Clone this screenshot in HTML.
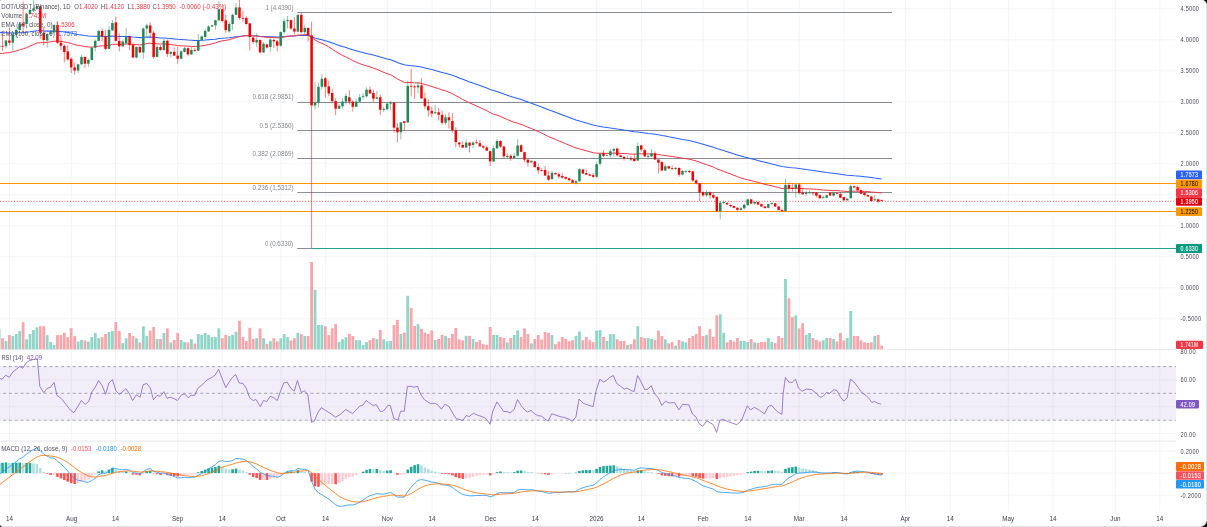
<!DOCTYPE html>
<html><head><meta charset="utf-8"><title>DOT/USDT chart</title>
<style>
html,body{margin:0;padding:0;width:1207px;height:527px;overflow:hidden;background:#000;}
.frame{position:absolute;left:0;top:0;width:1206px;height:526px;background:#fff;border-right:1px solid #dfe2ea;border-bottom:1px solid #dfe2ea;border-radius:1px 5px 7px 3px;overflow:hidden;}
svg{position:absolute;left:0;top:0;display:block;}
</style></head><body><div class="frame"><svg width="1207" height="527" viewBox="0 0 1207 527" font-family="'Liberation Sans', Arial, sans-serif"><line x1="9.4" y1="0" x2="9.4" y2="511.5" stroke="#f3f4f6" stroke-width="1"/><line x1="71.6" y1="0" x2="71.6" y2="511.5" stroke="#f3f4f6" stroke-width="1"/><line x1="115.5" y1="0" x2="115.5" y2="511.5" stroke="#f3f4f6" stroke-width="1"/><line x1="177.6" y1="0" x2="177.6" y2="511.5" stroke="#f3f4f6" stroke-width="1"/><line x1="222.3" y1="0" x2="222.3" y2="511.5" stroke="#f3f4f6" stroke-width="1"/><line x1="280.9" y1="0" x2="280.9" y2="511.5" stroke="#f3f4f6" stroke-width="1"/><line x1="325.6" y1="0" x2="325.6" y2="511.5" stroke="#f3f4f6" stroke-width="1"/><line x1="387.4" y1="0" x2="387.4" y2="511.5" stroke="#f3f4f6" stroke-width="1"/><line x1="432.1" y1="0" x2="432.1" y2="511.5" stroke="#f3f4f6" stroke-width="1"/><line x1="490.5" y1="0" x2="490.5" y2="511.5" stroke="#f3f4f6" stroke-width="1"/><line x1="535.2" y1="0" x2="535.2" y2="511.5" stroke="#f3f4f6" stroke-width="1"/><line x1="596.6" y1="0" x2="596.6" y2="511.5" stroke="#f3f4f6" stroke-width="1"/><line x1="641.3" y1="0" x2="641.3" y2="511.5" stroke="#f3f4f6" stroke-width="1"/><line x1="703.1" y1="0" x2="703.1" y2="511.5" stroke="#f3f4f6" stroke-width="1"/><line x1="747.8" y1="0" x2="747.8" y2="511.5" stroke="#f3f4f6" stroke-width="1"/><line x1="799.2" y1="0" x2="799.2" y2="511.5" stroke="#f3f4f6" stroke-width="1"/><line x1="844.0" y1="0" x2="844.0" y2="511.5" stroke="#f3f4f6" stroke-width="1"/><line x1="905.3" y1="0" x2="905.3" y2="511.5" stroke="#f3f4f6" stroke-width="1"/><line x1="950.3" y1="0" x2="950.3" y2="511.5" stroke="#f3f4f6" stroke-width="1"/><line x1="1008.3" y1="0" x2="1008.3" y2="511.5" stroke="#f3f4f6" stroke-width="1"/><line x1="1053.1" y1="0" x2="1053.1" y2="511.5" stroke="#f3f4f6" stroke-width="1"/><line x1="1115.4" y1="0" x2="1115.4" y2="511.5" stroke="#f3f4f6" stroke-width="1"/><line x1="1159.8" y1="0" x2="1159.8" y2="511.5" stroke="#f3f4f6" stroke-width="1"/><line x1="0" y1="8.8" x2="1176" y2="8.8" stroke="#f3f4f6" stroke-width="1"/><line x1="0" y1="39.8" x2="1176" y2="39.8" stroke="#f3f4f6" stroke-width="1"/><line x1="0" y1="70.8" x2="1176" y2="70.8" stroke="#f3f4f6" stroke-width="1"/><line x1="0" y1="101.8" x2="1176" y2="101.8" stroke="#f3f4f6" stroke-width="1"/><line x1="0" y1="132.8" x2="1176" y2="132.8" stroke="#f3f4f6" stroke-width="1"/><line x1="0" y1="163.8" x2="1176" y2="163.8" stroke="#f3f4f6" stroke-width="1"/><line x1="0" y1="194.8" x2="1176" y2="194.8" stroke="#f3f4f6" stroke-width="1"/><line x1="0" y1="225.8" x2="1176" y2="225.8" stroke="#f3f4f6" stroke-width="1"/><line x1="0" y1="256.8" x2="1176" y2="256.8" stroke="#f3f4f6" stroke-width="1"/><line x1="0" y1="287.8" x2="1176" y2="287.8" stroke="#f3f4f6" stroke-width="1"/><line x1="0" y1="318.8" x2="1176" y2="318.8" stroke="#f3f4f6" stroke-width="1"/><line x1="0" y1="380.0" x2="1176" y2="380.0" stroke="#f3f4f6" stroke-width="1"/><line x1="0" y1="406.7" x2="1176" y2="406.7" stroke="#f3f4f6" stroke-width="1"/><line x1="0" y1="433.4" x2="1176" y2="433.4" stroke="#f3f4f6" stroke-width="1"/><line x1="0" y1="451.1" x2="1176" y2="451.1" stroke="#f3f4f6" stroke-width="1"/><line x1="0" y1="473.1" x2="1176" y2="473.1" stroke="#f3f4f6" stroke-width="1"/><line x1="0" y1="495.2" x2="1176" y2="495.2" stroke="#f3f4f6" stroke-width="1"/><line x1="0" y1="349.6" x2="1176" y2="349.6" stroke="#e5e7ed" stroke-width="1"/><line x1="0" y1="441.1" x2="1176" y2="441.1" stroke="#e5e7ed" stroke-width="1"/><rect x="0" y="366.2" width="1176" height="54.2" fill="#7e57c2" fill-opacity="0.1"/><line x1="0" y1="366.6" x2="1176" y2="366.6" stroke="#8a8d96" stroke-width="0.75" stroke-dasharray="3,2.8" stroke-dashoffset="2.7"/><line x1="0" y1="393.3" x2="1176" y2="393.3" stroke="#8a8d96" stroke-width="0.75" stroke-dasharray="3,2.8" stroke-dashoffset="2.7"/><line x1="0" y1="420.2" x2="1176" y2="420.2" stroke="#8a8d96" stroke-width="0.75" stroke-dasharray="3,2.8" stroke-dashoffset="2.7"/><g><rect x="-2.30" y="329.1" width="2.8" height="20.1" fill="#90d5c8"/><rect x="1.13" y="338.2" width="2.8" height="11.0" fill="#f8a5ab"/><rect x="4.57" y="341.1" width="2.8" height="8.1" fill="#90d5c8"/><rect x="8.00" y="335.1" width="2.8" height="14.1" fill="#f8a5ab"/><rect x="11.43" y="336.1" width="2.8" height="13.1" fill="#90d5c8"/><rect x="14.87" y="334.0" width="2.8" height="15.2" fill="#90d5c8"/><rect x="18.30" y="331.1" width="2.8" height="18.1" fill="#90d5c8"/><rect x="21.74" y="322.2" width="2.8" height="27.0" fill="#f8a5ab"/><rect x="25.17" y="339.4" width="2.8" height="9.8" fill="#90d5c8"/><rect x="28.60" y="334.0" width="2.8" height="15.2" fill="#90d5c8"/><rect x="32.04" y="330.1" width="2.8" height="19.1" fill="#90d5c8"/><rect x="35.47" y="327.4" width="2.8" height="21.8" fill="#90d5c8"/><rect x="38.91" y="326.2" width="2.8" height="23.0" fill="#f8a5ab"/><rect x="42.34" y="326.2" width="2.8" height="23.0" fill="#f8a5ab"/><rect x="45.77" y="335.1" width="2.8" height="14.1" fill="#90d5c8"/><rect x="49.21" y="342.1" width="2.8" height="7.1" fill="#90d5c8"/><rect x="52.64" y="344.8" width="2.8" height="4.4" fill="#90d5c8"/><rect x="56.08" y="335.1" width="2.8" height="14.1" fill="#f8a5ab"/><rect x="59.51" y="335.1" width="2.8" height="14.1" fill="#f8a5ab"/><rect x="62.94" y="332.8" width="2.8" height="16.4" fill="#f8a5ab"/><rect x="66.38" y="337.1" width="2.8" height="12.1" fill="#f8a5ab"/><rect x="69.81" y="328.1" width="2.8" height="21.1" fill="#f8a5ab"/><rect x="73.25" y="336.1" width="2.8" height="13.1" fill="#f8a5ab"/><rect x="76.68" y="341.5" width="2.8" height="7.7" fill="#90d5c8"/><rect x="80.11" y="340.0" width="2.8" height="9.2" fill="#90d5c8"/><rect x="83.55" y="340.5" width="2.8" height="8.7" fill="#f8a5ab"/><rect x="86.98" y="341.5" width="2.8" height="7.7" fill="#90d5c8"/><rect x="90.42" y="337.1" width="2.8" height="12.1" fill="#90d5c8"/><rect x="93.85" y="333.0" width="2.8" height="16.2" fill="#90d5c8"/><rect x="97.28" y="338.2" width="2.8" height="11.0" fill="#90d5c8"/><rect x="100.72" y="337.2" width="2.8" height="12.0" fill="#f8a5ab"/><rect x="104.15" y="334.0" width="2.8" height="15.2" fill="#f8a5ab"/><rect x="107.59" y="332.1" width="2.8" height="17.1" fill="#90d5c8"/><rect x="111.02" y="331.1" width="2.8" height="18.1" fill="#90d5c8"/><rect x="114.45" y="322.0" width="2.8" height="27.2" fill="#f8a5ab"/><rect x="117.89" y="331.1" width="2.8" height="18.1" fill="#f8a5ab"/><rect x="121.32" y="343.1" width="2.8" height="6.1" fill="#90d5c8"/><rect x="124.76" y="338.3" width="2.8" height="10.9" fill="#90d5c8"/><rect x="128.19" y="333.0" width="2.8" height="16.2" fill="#f8a5ab"/><rect x="131.62" y="336.1" width="2.8" height="13.1" fill="#f8a5ab"/><rect x="135.06" y="338.2" width="2.8" height="11.0" fill="#90d5c8"/><rect x="138.49" y="342.5" width="2.8" height="6.7" fill="#f8a5ab"/><rect x="141.93" y="326.3" width="2.8" height="22.9" fill="#90d5c8"/><rect x="145.36" y="336.1" width="2.8" height="13.1" fill="#90d5c8"/><rect x="148.79" y="330.7" width="2.8" height="18.5" fill="#f8a5ab"/><rect x="152.23" y="327.0" width="2.8" height="22.2" fill="#f8a5ab"/><rect x="155.66" y="339.0" width="2.8" height="10.2" fill="#90d5c8"/><rect x="159.10" y="339.0" width="2.8" height="10.2" fill="#f8a5ab"/><rect x="162.53" y="333.0" width="2.8" height="16.2" fill="#90d5c8"/><rect x="165.96" y="328.4" width="2.8" height="20.8" fill="#f8a5ab"/><rect x="169.40" y="342.5" width="2.8" height="6.7" fill="#90d5c8"/><rect x="172.83" y="340.0" width="2.8" height="9.2" fill="#f8a5ab"/><rect x="176.27" y="333.0" width="2.8" height="16.2" fill="#f8a5ab"/><rect x="179.70" y="340.0" width="2.8" height="9.2" fill="#90d5c8"/><rect x="183.13" y="342.1" width="2.8" height="7.1" fill="#90d5c8"/><rect x="186.57" y="342.5" width="2.8" height="6.7" fill="#f8a5ab"/><rect x="190.00" y="339.2" width="2.8" height="10.0" fill="#90d5c8"/><rect x="193.44" y="343.6" width="2.8" height="5.6" fill="#f8a5ab"/><rect x="196.87" y="334.0" width="2.8" height="15.2" fill="#90d5c8"/><rect x="200.30" y="334.9" width="2.8" height="14.3" fill="#90d5c8"/><rect x="203.74" y="333.0" width="2.8" height="16.2" fill="#90d5c8"/><rect x="207.17" y="334.9" width="2.8" height="14.3" fill="#90d5c8"/><rect x="210.61" y="337.1" width="2.8" height="12.1" fill="#90d5c8"/><rect x="214.04" y="337.1" width="2.8" height="12.1" fill="#90d5c8"/><rect x="217.47" y="328.4" width="2.8" height="20.8" fill="#90d5c8"/><rect x="220.91" y="338.2" width="2.8" height="11.0" fill="#f8a5ab"/><rect x="224.34" y="334.9" width="2.8" height="14.3" fill="#f8a5ab"/><rect x="227.78" y="336.1" width="2.8" height="13.1" fill="#90d5c8"/><rect x="231.21" y="334.9" width="2.8" height="14.3" fill="#90d5c8"/><rect x="234.64" y="331.7" width="2.8" height="17.5" fill="#90d5c8"/><rect x="238.08" y="320.8" width="2.8" height="28.4" fill="#f8a5ab"/><rect x="241.51" y="337.1" width="2.8" height="12.1" fill="#f8a5ab"/><rect x="244.95" y="341.1" width="2.8" height="8.1" fill="#f8a5ab"/><rect x="248.38" y="327.8" width="2.8" height="21.4" fill="#f8a5ab"/><rect x="251.81" y="339.0" width="2.8" height="10.2" fill="#f8a5ab"/><rect x="255.25" y="338.2" width="2.8" height="11.0" fill="#90d5c8"/><rect x="258.68" y="328.4" width="2.8" height="20.8" fill="#f8a5ab"/><rect x="262.12" y="338.2" width="2.8" height="11.0" fill="#90d5c8"/><rect x="265.55" y="344.0" width="2.8" height="5.2" fill="#f8a5ab"/><rect x="268.98" y="341.1" width="2.8" height="8.1" fill="#90d5c8"/><rect x="272.42" y="338.2" width="2.8" height="11.0" fill="#f8a5ab"/><rect x="275.85" y="341.5" width="2.8" height="7.7" fill="#f8a5ab"/><rect x="279.29" y="338.2" width="2.8" height="11.0" fill="#90d5c8"/><rect x="282.72" y="334.0" width="2.8" height="15.2" fill="#90d5c8"/><rect x="286.15" y="337.1" width="2.8" height="12.1" fill="#90d5c8"/><rect x="289.59" y="340.3" width="2.8" height="8.9" fill="#f8a5ab"/><rect x="293.02" y="338.2" width="2.8" height="11.0" fill="#f8a5ab"/><rect x="296.46" y="332.9" width="2.8" height="16.3" fill="#90d5c8"/><rect x="299.89" y="334.2" width="2.8" height="15.0" fill="#f8a5ab"/><rect x="303.32" y="336.0" width="2.8" height="13.2" fill="#90d5c8"/><rect x="306.76" y="336.0" width="2.8" height="13.2" fill="#f8a5ab"/><rect x="310.19" y="262.0" width="2.8" height="87.2" fill="#f8a5ab"/><rect x="313.63" y="290.0" width="2.8" height="59.2" fill="#90d5c8"/><rect x="317.06" y="325.0" width="2.8" height="24.2" fill="#90d5c8"/><rect x="320.49" y="325.0" width="2.8" height="24.2" fill="#90d5c8"/><rect x="323.93" y="326.3" width="2.8" height="22.9" fill="#f8a5ab"/><rect x="327.36" y="335.1" width="2.8" height="14.1" fill="#f8a5ab"/><rect x="330.80" y="328.3" width="2.8" height="20.9" fill="#f8a5ab"/><rect x="334.23" y="324.1" width="2.8" height="25.1" fill="#f8a5ab"/><rect x="337.66" y="341.9" width="2.8" height="7.3" fill="#90d5c8"/><rect x="341.10" y="339.2" width="2.8" height="10.0" fill="#90d5c8"/><rect x="344.53" y="337.3" width="2.8" height="11.9" fill="#90d5c8"/><rect x="347.97" y="333.8" width="2.8" height="15.4" fill="#f8a5ab"/><rect x="351.40" y="336.0" width="2.8" height="13.2" fill="#f8a5ab"/><rect x="354.83" y="340.1" width="2.8" height="9.1" fill="#90d5c8"/><rect x="358.27" y="340.3" width="2.8" height="8.9" fill="#90d5c8"/><rect x="361.70" y="344.9" width="2.8" height="4.3" fill="#90d5c8"/><rect x="365.14" y="342.1" width="2.8" height="7.1" fill="#90d5c8"/><rect x="368.57" y="340.1" width="2.8" height="9.1" fill="#f8a5ab"/><rect x="372.00" y="338.2" width="2.8" height="11.0" fill="#f8a5ab"/><rect x="375.44" y="339.1" width="2.8" height="10.1" fill="#90d5c8"/><rect x="378.87" y="329.9" width="2.8" height="19.3" fill="#f8a5ab"/><rect x="382.31" y="339.3" width="2.8" height="9.9" fill="#90d5c8"/><rect x="385.74" y="341.3" width="2.8" height="7.9" fill="#90d5c8"/><rect x="389.17" y="340.9" width="2.8" height="8.3" fill="#90d5c8"/><rect x="392.61" y="325.0" width="2.8" height="24.2" fill="#f8a5ab"/><rect x="396.04" y="319.9" width="2.8" height="29.3" fill="#f8a5ab"/><rect x="399.48" y="333.9" width="2.8" height="15.3" fill="#90d5c8"/><rect x="402.91" y="332.6" width="2.8" height="16.6" fill="#f8a5ab"/><rect x="406.34" y="295.8" width="2.8" height="53.4" fill="#90d5c8"/><rect x="409.78" y="307.9" width="2.8" height="41.3" fill="#f8a5ab"/><rect x="413.21" y="326.0" width="2.8" height="23.2" fill="#f8a5ab"/><rect x="416.65" y="324.1" width="2.8" height="25.1" fill="#90d5c8"/><rect x="420.08" y="328.8" width="2.8" height="20.4" fill="#f8a5ab"/><rect x="423.51" y="332.6" width="2.8" height="16.6" fill="#f8a5ab"/><rect x="426.95" y="333.9" width="2.8" height="15.3" fill="#f8a5ab"/><rect x="430.38" y="330.4" width="2.8" height="18.8" fill="#f8a5ab"/><rect x="433.82" y="340.0" width="2.8" height="9.2" fill="#90d5c8"/><rect x="437.25" y="339.0" width="2.8" height="10.2" fill="#f8a5ab"/><rect x="440.68" y="334.9" width="2.8" height="14.3" fill="#f8a5ab"/><rect x="444.12" y="335.8" width="2.8" height="13.4" fill="#90d5c8"/><rect x="447.55" y="338.0" width="2.8" height="11.2" fill="#f8a5ab"/><rect x="450.99" y="333.9" width="2.8" height="15.3" fill="#f8a5ab"/><rect x="454.42" y="328.0" width="2.8" height="21.2" fill="#f8a5ab"/><rect x="457.85" y="339.3" width="2.8" height="9.9" fill="#f8a5ab"/><rect x="461.29" y="340.3" width="2.8" height="8.9" fill="#f8a5ab"/><rect x="464.72" y="335.8" width="2.8" height="13.4" fill="#90d5c8"/><rect x="468.16" y="335.9" width="2.8" height="13.3" fill="#f8a5ab"/><rect x="471.59" y="339.0" width="2.8" height="10.2" fill="#90d5c8"/><rect x="475.02" y="342.0" width="2.8" height="7.2" fill="#f8a5ab"/><rect x="478.46" y="340.2" width="2.8" height="9.0" fill="#f8a5ab"/><rect x="481.89" y="344.2" width="2.8" height="5.0" fill="#f8a5ab"/><rect x="485.33" y="344.9" width="2.8" height="4.3" fill="#f8a5ab"/><rect x="488.76" y="327.0" width="2.8" height="22.2" fill="#f8a5ab"/><rect x="492.19" y="335.0" width="2.8" height="14.2" fill="#90d5c8"/><rect x="495.63" y="335.0" width="2.8" height="14.2" fill="#90d5c8"/><rect x="499.06" y="337.0" width="2.8" height="12.2" fill="#f8a5ab"/><rect x="502.50" y="338.0" width="2.8" height="11.2" fill="#f8a5ab"/><rect x="505.93" y="342.4" width="2.8" height="6.8" fill="#90d5c8"/><rect x="509.36" y="338.0" width="2.8" height="11.2" fill="#f8a5ab"/><rect x="512.80" y="335.0" width="2.8" height="14.2" fill="#90d5c8"/><rect x="516.23" y="330.6" width="2.8" height="18.6" fill="#90d5c8"/><rect x="519.67" y="337.0" width="2.8" height="12.2" fill="#f8a5ab"/><rect x="523.10" y="328.4" width="2.8" height="20.8" fill="#f8a5ab"/><rect x="526.53" y="334.1" width="2.8" height="15.1" fill="#f8a5ab"/><rect x="529.97" y="343.4" width="2.8" height="5.8" fill="#90d5c8"/><rect x="533.40" y="339.0" width="2.8" height="10.2" fill="#f8a5ab"/><rect x="536.84" y="335.0" width="2.8" height="14.2" fill="#f8a5ab"/><rect x="540.27" y="339.5" width="2.8" height="9.7" fill="#f8a5ab"/><rect x="543.70" y="332.1" width="2.8" height="17.1" fill="#f8a5ab"/><rect x="547.14" y="332.9" width="2.8" height="16.3" fill="#f8a5ab"/><rect x="550.57" y="335.0" width="2.8" height="14.2" fill="#90d5c8"/><rect x="554.01" y="344.2" width="2.8" height="5.0" fill="#f8a5ab"/><rect x="557.44" y="341.5" width="2.8" height="7.7" fill="#f8a5ab"/><rect x="560.87" y="337.0" width="2.8" height="12.2" fill="#f8a5ab"/><rect x="564.31" y="339.0" width="2.8" height="10.2" fill="#f8a5ab"/><rect x="567.74" y="341.2" width="2.8" height="8.0" fill="#f8a5ab"/><rect x="571.18" y="340.2" width="2.8" height="9.0" fill="#f8a5ab"/><rect x="574.61" y="336.0" width="2.8" height="13.2" fill="#90d5c8"/><rect x="578.04" y="331.6" width="2.8" height="17.6" fill="#90d5c8"/><rect x="581.48" y="340.2" width="2.8" height="9.0" fill="#f8a5ab"/><rect x="584.91" y="337.0" width="2.8" height="12.2" fill="#f8a5ab"/><rect x="588.35" y="340.2" width="2.8" height="9.0" fill="#f8a5ab"/><rect x="591.78" y="342.2" width="2.8" height="7.0" fill="#f8a5ab"/><rect x="595.21" y="330.6" width="2.8" height="18.6" fill="#90d5c8"/><rect x="598.65" y="330.1" width="2.8" height="19.1" fill="#90d5c8"/><rect x="602.08" y="337.0" width="2.8" height="12.2" fill="#f8a5ab"/><rect x="605.52" y="341.0" width="2.8" height="8.2" fill="#90d5c8"/><rect x="608.95" y="334.1" width="2.8" height="15.1" fill="#90d5c8"/><rect x="612.38" y="334.1" width="2.8" height="15.1" fill="#90d5c8"/><rect x="615.82" y="339.3" width="2.8" height="9.9" fill="#f8a5ab"/><rect x="619.25" y="341.0" width="2.8" height="8.2" fill="#f8a5ab"/><rect x="622.69" y="341.0" width="2.8" height="8.2" fill="#f8a5ab"/><rect x="626.12" y="344.9" width="2.8" height="4.3" fill="#90d5c8"/><rect x="629.55" y="344.1" width="2.8" height="5.1" fill="#f8a5ab"/><rect x="632.99" y="339.3" width="2.8" height="9.9" fill="#f8a5ab"/><rect x="636.42" y="326.2" width="2.8" height="23.0" fill="#90d5c8"/><rect x="639.86" y="337.0" width="2.8" height="12.2" fill="#f8a5ab"/><rect x="643.29" y="338.0" width="2.8" height="11.2" fill="#f8a5ab"/><rect x="646.72" y="338.0" width="2.8" height="11.2" fill="#90d5c8"/><rect x="650.16" y="339.0" width="2.8" height="10.2" fill="#90d5c8"/><rect x="653.59" y="340.0" width="2.8" height="9.2" fill="#f8a5ab"/><rect x="657.03" y="330.6" width="2.8" height="18.6" fill="#f8a5ab"/><rect x="660.46" y="336.0" width="2.8" height="13.2" fill="#f8a5ab"/><rect x="663.89" y="339.3" width="2.8" height="9.9" fill="#90d5c8"/><rect x="667.33" y="343.4" width="2.8" height="5.8" fill="#f8a5ab"/><rect x="670.76" y="342.0" width="2.8" height="7.2" fill="#f8a5ab"/><rect x="674.20" y="345.7" width="2.8" height="3.5" fill="#90d5c8"/><rect x="677.63" y="340.0" width="2.8" height="9.2" fill="#f8a5ab"/><rect x="681.06" y="341.3" width="2.8" height="7.9" fill="#90d5c8"/><rect x="684.50" y="342.4" width="2.8" height="6.8" fill="#90d5c8"/><rect x="687.93" y="338.0" width="2.8" height="11.2" fill="#f8a5ab"/><rect x="691.37" y="336.0" width="2.8" height="13.2" fill="#f8a5ab"/><rect x="694.80" y="334.1" width="2.8" height="15.1" fill="#f8a5ab"/><rect x="698.23" y="326.2" width="2.8" height="23.0" fill="#f8a5ab"/><rect x="701.67" y="336.0" width="2.8" height="13.2" fill="#f8a5ab"/><rect x="705.10" y="335.0" width="2.8" height="14.2" fill="#90d5c8"/><rect x="708.54" y="329.1" width="2.8" height="20.1" fill="#f8a5ab"/><rect x="711.97" y="337.0" width="2.8" height="12.2" fill="#f8a5ab"/><rect x="715.40" y="315.3" width="2.8" height="33.9" fill="#f8a5ab"/><rect x="718.84" y="314.3" width="2.8" height="34.9" fill="#90d5c8"/><rect x="722.27" y="332.9" width="2.8" height="16.3" fill="#90d5c8"/><rect x="725.71" y="342.4" width="2.8" height="6.8" fill="#f8a5ab"/><rect x="729.14" y="340.0" width="2.8" height="9.2" fill="#f8a5ab"/><rect x="732.57" y="341.5" width="2.8" height="7.7" fill="#f8a5ab"/><rect x="736.01" y="338.0" width="2.8" height="11.2" fill="#f8a5ab"/><rect x="739.44" y="341.0" width="2.8" height="8.2" fill="#90d5c8"/><rect x="742.88" y="341.0" width="2.8" height="8.2" fill="#90d5c8"/><rect x="746.31" y="342.0" width="2.8" height="7.2" fill="#90d5c8"/><rect x="749.74" y="339.0" width="2.8" height="10.2" fill="#f8a5ab"/><rect x="753.18" y="342.4" width="2.8" height="6.8" fill="#90d5c8"/><rect x="756.61" y="343.0" width="2.8" height="6.2" fill="#f8a5ab"/><rect x="760.05" y="342.0" width="2.8" height="7.2" fill="#f8a5ab"/><rect x="763.48" y="342.0" width="2.8" height="7.2" fill="#f8a5ab"/><rect x="766.91" y="338.0" width="2.8" height="11.2" fill="#90d5c8"/><rect x="770.35" y="342.0" width="2.8" height="7.2" fill="#90d5c8"/><rect x="773.78" y="343.1" width="2.8" height="6.1" fill="#f8a5ab"/><rect x="777.22" y="336.1" width="2.8" height="13.1" fill="#f8a5ab"/><rect x="780.65" y="338.0" width="2.8" height="11.2" fill="#f8a5ab"/><rect x="784.08" y="279.0" width="2.8" height="70.2" fill="#90d5c8"/><rect x="787.52" y="298.3" width="2.8" height="50.9" fill="#f8a5ab"/><rect x="790.95" y="317.1" width="2.8" height="32.1" fill="#f8a5ab"/><rect x="794.39" y="315.4" width="2.8" height="33.8" fill="#90d5c8"/><rect x="797.82" y="328.3" width="2.8" height="20.9" fill="#f8a5ab"/><rect x="801.25" y="323.2" width="2.8" height="26.0" fill="#f8a5ab"/><rect x="804.69" y="335.0" width="2.8" height="14.2" fill="#90d5c8"/><rect x="808.12" y="333.0" width="2.8" height="16.2" fill="#90d5c8"/><rect x="811.56" y="338.0" width="2.8" height="11.2" fill="#f8a5ab"/><rect x="814.99" y="340.0" width="2.8" height="9.2" fill="#f8a5ab"/><rect x="818.42" y="341.5" width="2.8" height="7.7" fill="#f8a5ab"/><rect x="821.86" y="340.3" width="2.8" height="8.9" fill="#90d5c8"/><rect x="825.29" y="338.0" width="2.8" height="11.2" fill="#90d5c8"/><rect x="828.73" y="338.0" width="2.8" height="11.2" fill="#f8a5ab"/><rect x="832.16" y="339.0" width="2.8" height="10.2" fill="#90d5c8"/><rect x="835.59" y="341.5" width="2.8" height="7.7" fill="#f8a5ab"/><rect x="839.03" y="332.8" width="2.8" height="16.4" fill="#f8a5ab"/><rect x="842.46" y="340.4" width="2.8" height="8.8" fill="#f8a5ab"/><rect x="845.90" y="338.0" width="2.8" height="11.2" fill="#90d5c8"/><rect x="849.33" y="311.0" width="2.8" height="38.2" fill="#90d5c8"/><rect x="852.76" y="336.0" width="2.8" height="13.2" fill="#f8a5ab"/><rect x="856.20" y="336.0" width="2.8" height="13.2" fill="#f8a5ab"/><rect x="859.63" y="340.3" width="2.8" height="8.9" fill="#f8a5ab"/><rect x="863.07" y="342.4" width="2.8" height="6.8" fill="#f8a5ab"/><rect x="866.50" y="342.9" width="2.8" height="6.3" fill="#f8a5ab"/><rect x="869.93" y="342.4" width="2.8" height="6.8" fill="#f8a5ab"/><rect x="873.37" y="336.0" width="2.8" height="13.2" fill="#90d5c8"/><rect x="876.80" y="335.0" width="2.8" height="14.2" fill="#f8a5ab"/><rect x="880.24" y="345.7" width="2.8" height="3.5" fill="#f8a5ab"/></g><line x1="297.3" y1="12.5" x2="892" y2="12.5" stroke="#8a8d94" stroke-width="1"/><line x1="297.3" y1="102.5" x2="892" y2="102.5" stroke="#8a8d94" stroke-width="1"/><line x1="297.3" y1="130.5" x2="892" y2="130.5" stroke="#8a8d94" stroke-width="1"/><line x1="297.3" y1="158.5" x2="892" y2="158.5" stroke="#8a8d94" stroke-width="1"/><line x1="297.3" y1="192.5" x2="892" y2="192.5" stroke="#8a8d94" stroke-width="1"/><line x1="297.3" y1="248.5" x2="312" y2="248.5" stroke="#8a8d94" stroke-width="1"/><line x1="311.2" y1="248.5" x2="1176" y2="248.5" stroke="#22a08a" stroke-width="1.1"/><line x1="0" y1="183.5" x2="1176" y2="183.5" stroke="#ff9500" stroke-width="1.1"/><line x1="0" y1="211.5" x2="1176" y2="211.5" stroke="#ff9500" stroke-width="1.1"/><line x1="0" y1="201.3" x2="1176" y2="201.3" stroke="#f03030" stroke-width="0.85" stroke-dasharray="1,1.8"/><polyline points="-0.9,32.3 2.5,32.6 6.0,32.7 9.4,32.9 12.8,32.9 16.3,32.9 19.7,32.7 23.1,32.6 26.6,32.2 30.0,31.8 33.4,31.3 36.9,30.8 40.3,30.8 43.7,31.0 47.2,31.1 50.6,31.1 54.0,31.0 57.5,31.2 60.9,31.5 64.3,31.9 67.8,32.5 71.2,33.1 74.6,33.9 78.1,34.5 81.5,34.9 84.9,35.5 88.4,36.0 91.8,36.2 95.3,36.3 98.7,36.2 102.1,36.2 105.6,36.5 109.0,36.3 112.4,36.1 115.9,36.2 119.3,36.4 122.7,36.5 126.2,36.5 129.6,36.6 133.0,37.1 136.5,37.3 139.9,37.6 143.3,37.4 146.8,37.1 150.2,37.1 153.6,37.4 157.1,37.6 160.5,37.9 163.9,37.9 167.4,38.3 170.8,38.5 174.2,38.9 177.7,39.3 181.1,39.5 184.5,39.7 188.0,40.0 191.4,40.2 194.8,40.4 198.3,40.4 201.7,40.3 205.1,40.1 208.6,39.8 212.0,39.5 215.4,39.2 218.9,38.6 222.3,38.2 225.7,38.1 229.2,37.8 232.6,37.3 236.0,36.7 239.5,36.4 242.9,36.0 246.3,35.8 249.8,35.8 253.2,35.9 256.6,36.0 260.1,36.3 263.5,36.5 266.9,36.7 270.4,36.7 273.8,36.8 277.3,37.0 280.7,36.9 284.1,36.6 287.6,36.3 291.0,36.1 294.4,36.0 297.9,35.6 301.3,35.5 304.7,35.4 308.2,35.4 311.6,36.8 315.0,38.1 318.5,39.0 321.9,39.8 325.3,40.8 328.8,41.8 332.2,43.0 335.6,44.3 339.1,45.5 342.5,46.6 345.9,47.6 349.4,48.7 352.8,49.8 356.2,50.8 359.7,51.8 363.1,52.6 366.5,53.4 370.0,54.2 373.4,55.0 376.8,55.9 380.3,56.9 383.7,58.0 387.1,58.9 390.6,59.7 394.0,61.1 397.4,62.5 400.9,63.7 404.3,64.8 407.7,65.3 411.2,65.7 414.6,66.1 418.0,66.5 421.5,67.1 424.9,67.9 428.3,68.7 431.8,69.6 435.2,70.5 438.6,71.4 442.1,72.4 445.5,73.3 449.0,74.2 452.4,75.3 455.8,76.6 459.3,78.0 462.7,79.3 466.1,80.6 469.6,81.9 473.0,83.1 476.4,84.3 479.9,85.5 483.3,86.7 486.7,88.0 490.2,89.4 493.6,90.6 497.0,91.6 500.5,92.7 503.9,94.0 507.3,95.2 510.8,96.4 514.2,97.6 517.6,98.6 521.1,99.6 524.5,100.8 527.9,102.0 531.4,103.2 534.8,104.5 538.2,105.8 541.7,107.0 545.1,108.4 548.5,109.8 552.0,111.1 555.4,112.3 558.8,113.6 562.3,114.9 565.7,116.1 569.1,117.4 572.6,118.7 576.0,119.9 579.4,120.9 582.9,121.9 586.3,123.0 589.7,124.0 593.2,125.1 596.6,125.8 600.0,126.4 603.5,127.0 606.9,127.5 610.4,128.0 613.8,128.4 617.2,129.0 620.7,129.5 624.1,130.1 627.5,130.6 631.0,131.2 634.4,131.8 637.8,132.1 641.3,132.4 644.7,132.9 648.1,133.4 651.6,133.8 655.0,134.3 658.4,134.8 661.9,135.5 665.3,136.1 668.7,136.8 672.2,137.4 675.6,138.0 679.0,138.7 682.5,139.4 685.9,140.0 689.3,140.6 692.8,141.4 696.2,142.3 699.6,143.3 703.1,144.3 706.5,145.2 709.9,146.2 713.4,147.2 716.8,148.5 720.2,149.6 723.7,150.6 727.1,151.7 730.5,152.8 734.0,153.9 737.4,155.0 740.8,156.0 744.3,157.0 747.7,157.8 751.1,158.7 754.6,159.6 758.0,160.5 761.4,161.4 764.9,162.3 768.3,163.1 771.7,163.9 775.2,164.8 778.6,165.7 782.1,166.6 785.5,166.9 788.9,167.4 792.4,167.8 795.8,168.1 799.2,168.6 802.7,169.1 806.1,169.6 809.5,170.0 813.0,170.5 816.4,171.0 819.8,171.5 823.3,172.0 826.7,172.5 830.1,172.9 833.6,173.3 837.0,173.7 840.4,174.2 843.9,174.7 847.3,175.2 850.7,175.4 854.2,175.7 857.6,175.9 861.0,176.3 864.5,176.7 867.9,177.1 871.3,177.5 874.8,178.0 878.2,178.4 881.6,178.9" fill="none" stroke="#2962ff" stroke-width="1.05"/><polyline points="-0.9,53.7 2.5,53.4 6.0,52.9 9.4,52.5 12.8,51.8 16.3,50.9 19.7,49.9 23.1,48.9 26.6,47.6 30.0,46.1 33.4,44.6 36.9,43.1 40.3,42.7 43.7,42.6 47.2,42.3 50.6,41.9 54.0,41.2 57.5,41.3 60.9,41.4 64.3,41.9 67.8,42.5 71.2,43.5 74.6,44.6 78.1,45.4 81.5,45.8 84.9,46.5 88.4,47.0 91.8,47.1 95.3,46.8 98.7,46.2 102.1,45.8 105.6,45.9 109.0,45.3 112.4,44.4 115.9,44.3 119.3,44.4 122.7,44.3 126.2,44.0 129.6,44.0 133.0,44.5 136.5,44.6 139.9,44.9 143.3,44.3 146.8,43.6 150.2,43.1 153.6,43.7 157.1,43.8 160.5,44.0 163.9,43.9 167.4,44.3 170.8,44.6 174.2,45.0 177.7,45.6 181.1,45.8 184.5,45.9 188.0,46.2 191.4,46.4 194.8,46.5 198.3,46.3 201.7,45.9 205.1,45.3 208.6,44.6 212.0,43.8 215.4,42.9 218.9,41.6 222.3,40.8 225.7,40.4 229.2,39.7 232.6,38.7 236.0,37.5 239.5,36.7 242.9,36.0 246.3,35.6 249.8,35.6 253.2,35.9 256.6,36.0 260.1,36.7 263.5,36.9 266.9,37.4 270.4,37.4 273.8,37.6 277.3,37.9 280.7,37.7 284.1,37.0 287.6,36.4 291.0,36.1 294.4,35.9 297.9,35.1 301.3,34.9 304.7,34.7 308.2,34.7 311.6,37.5 315.0,40.0 318.5,41.9 321.9,43.3 325.3,45.0 328.8,46.9 332.2,49.0 335.6,51.4 339.1,53.5 342.5,55.4 345.9,57.0 349.4,58.7 352.8,60.6 356.2,62.2 359.7,63.6 363.1,64.9 366.5,65.8 370.0,66.9 373.4,68.2 376.8,69.3 380.3,70.9 383.7,72.4 387.1,73.6 390.6,74.7 394.0,76.8 397.4,79.0 400.9,80.7 404.3,82.3 407.7,82.5 411.2,82.6 414.6,82.8 418.0,82.9 421.5,83.5 424.9,84.4 428.3,85.4 431.8,86.5 435.2,87.6 438.6,88.6 442.1,90.0 445.5,91.0 449.0,92.2 452.4,93.7 455.8,95.6 459.3,97.5 462.7,99.5 466.1,101.1 469.6,102.9 473.0,104.4 476.4,106.0 479.9,107.5 483.3,109.1 486.7,110.7 490.2,112.7 493.6,114.1 497.0,115.2 500.5,116.4 503.9,118.0 507.3,119.5 510.8,121.0 514.2,122.3 517.6,123.2 521.1,124.4 524.5,125.7 527.9,127.2 531.4,128.5 534.8,130.0 538.2,131.6 541.7,133.1 545.1,134.8 548.5,136.6 552.0,138.0 555.4,139.4 558.8,140.9 562.3,142.3 565.7,143.7 569.1,145.2 572.6,146.6 576.0,148.0 579.4,148.8 582.9,149.8 586.3,150.8 589.7,151.7 593.2,152.7 596.6,153.2 600.0,153.2 603.5,153.3 606.9,153.4 610.4,153.3 613.8,153.1 617.2,153.2 620.7,153.4 624.1,153.6 627.5,153.7 631.0,154.0 634.4,154.2 637.8,153.9 641.3,153.7 644.7,153.9 648.1,153.9 651.6,153.9 655.0,154.1 658.4,154.5 661.9,155.1 665.3,155.5 668.7,156.0 672.2,156.5 675.6,157.0 679.0,157.7 682.5,158.2 685.9,158.7 689.3,159.2 692.8,160.1 696.2,161.0 699.6,162.2 703.1,163.5 706.5,164.6 709.9,165.8 713.4,167.1 716.8,168.8 720.2,170.1 723.7,171.4 727.1,172.7 730.5,174.0 734.0,175.3 737.4,176.7 740.8,177.9 744.3,179.0 747.7,179.8 751.1,180.7 754.6,181.5 758.0,182.4 761.4,183.4 764.9,184.3 768.3,185.1 771.7,185.8 775.2,186.6 778.6,187.6 782.1,188.5 785.5,188.3 788.9,188.3 792.4,188.3 795.8,188.2 799.2,188.4 802.7,188.6 806.1,188.8 809.5,188.9 813.0,189.1 816.4,189.3 819.8,189.7 823.3,190.0 826.7,190.2 830.1,190.4 833.6,190.5 837.0,190.6 840.4,190.9 843.9,191.2 847.3,191.5 850.7,191.3 854.2,191.2 857.6,191.1 861.0,191.2 864.5,191.4 867.9,191.6 871.3,192.0 874.8,192.3 878.2,192.6 881.6,192.9" fill="none" stroke="#f23645" stroke-width="1.0"/><g><line x1="-0.90" y1="44.0" x2="-0.90" y2="49.0" stroke="#23875a" stroke-width="0.5"/><rect x="-2.15" y="45.5" width="2.5" height="1.5" fill="#23875a"/><line x1="2.53" y1="34.0" x2="2.53" y2="51.0" stroke="#f20000" stroke-width="0.5"/><rect x="1.28" y="45.8" width="2.5" height="0.8" fill="#f20000"/><line x1="5.97" y1="40.0" x2="5.97" y2="48.4" stroke="#23875a" stroke-width="0.5"/><rect x="4.72" y="40.5" width="2.5" height="5.7" fill="#23875a"/><line x1="9.40" y1="27.7" x2="9.40" y2="45.5" stroke="#f20000" stroke-width="0.5"/><rect x="8.15" y="40.5" width="2.5" height="2.2" fill="#f20000"/><line x1="12.83" y1="34.0" x2="12.83" y2="51.0" stroke="#23875a" stroke-width="0.5"/><rect x="11.58" y="34.9" width="2.5" height="7.8" fill="#23875a"/><line x1="16.27" y1="28.5" x2="16.27" y2="38.4" stroke="#23875a" stroke-width="0.5"/><rect x="15.02" y="29.9" width="2.5" height="5.0" fill="#23875a"/><line x1="19.70" y1="22.8" x2="19.70" y2="32.7" stroke="#23875a" stroke-width="0.5"/><rect x="18.45" y="24.0" width="2.5" height="6.0" fill="#23875a"/><line x1="23.14" y1="1.4" x2="23.14" y2="34.0" stroke="#f20000" stroke-width="0.5"/><rect x="21.89" y="23.5" width="2.5" height="2.1" fill="#f20000"/><line x1="26.57" y1="13.5" x2="26.57" y2="28.4" stroke="#23875a" stroke-width="0.5"/><rect x="25.32" y="14.0" width="2.5" height="10.0" fill="#23875a"/><line x1="30.00" y1="9.0" x2="30.00" y2="15.0" stroke="#23875a" stroke-width="0.5"/><rect x="28.75" y="10.0" width="2.5" height="4.0" fill="#23875a"/><line x1="33.44" y1="0.0" x2="33.44" y2="12.0" stroke="#23875a" stroke-width="0.5"/><rect x="32.19" y="8.5" width="2.5" height="2.2" fill="#23875a"/><line x1="36.87" y1="5.0" x2="36.87" y2="10.0" stroke="#23875a" stroke-width="0.5"/><rect x="35.62" y="6.4" width="2.5" height="2.1" fill="#23875a"/><line x1="40.31" y1="5.7" x2="40.31" y2="39.0" stroke="#f20000" stroke-width="0.5"/><rect x="39.06" y="6.4" width="2.5" height="26.3" fill="#f20000"/><line x1="43.74" y1="27.0" x2="43.74" y2="45.5" stroke="#f20000" stroke-width="0.5"/><rect x="42.49" y="33.0" width="2.5" height="7.0" fill="#f20000"/><line x1="47.17" y1="32.7" x2="47.17" y2="47.7" stroke="#23875a" stroke-width="0.5"/><rect x="45.92" y="34.0" width="2.5" height="6.5" fill="#23875a"/><line x1="50.61" y1="30.0" x2="50.61" y2="35.5" stroke="#23875a" stroke-width="0.5"/><rect x="49.36" y="32.3" width="2.5" height="1.7" fill="#23875a"/><line x1="54.04" y1="24.3" x2="54.04" y2="33.5" stroke="#23875a" stroke-width="0.5"/><rect x="52.79" y="24.9" width="2.5" height="7.4" fill="#23875a"/><line x1="57.48" y1="21.2" x2="57.48" y2="44.0" stroke="#f20000" stroke-width="0.5"/><rect x="56.23" y="24.9" width="2.5" height="17.8" fill="#f20000"/><line x1="60.91" y1="35.3" x2="60.91" y2="50.1" stroke="#f20000" stroke-width="0.5"/><rect x="59.66" y="42.7" width="2.5" height="3.1" fill="#f20000"/><line x1="64.34" y1="44.6" x2="64.34" y2="62.5" stroke="#f20000" stroke-width="0.5"/><rect x="63.09" y="45.8" width="2.5" height="6.2" fill="#f20000"/><line x1="67.78" y1="45.2" x2="67.78" y2="60.6" stroke="#f20000" stroke-width="0.5"/><rect x="66.53" y="51.4" width="2.5" height="8.0" fill="#f20000"/><line x1="71.21" y1="57.5" x2="71.21" y2="73.0" stroke="#f20000" stroke-width="0.5"/><rect x="69.96" y="58.8" width="2.5" height="8.6" fill="#f20000"/><line x1="74.65" y1="62.5" x2="74.65" y2="74.8" stroke="#f20000" stroke-width="0.5"/><rect x="73.40" y="67.4" width="2.5" height="3.1" fill="#f20000"/><line x1="78.08" y1="63.7" x2="78.08" y2="73.0" stroke="#23875a" stroke-width="0.5"/><rect x="76.83" y="64.3" width="2.5" height="6.2" fill="#23875a"/><line x1="81.51" y1="55.0" x2="81.51" y2="65.0" stroke="#23875a" stroke-width="0.5"/><rect x="80.26" y="56.9" width="2.5" height="7.4" fill="#23875a"/><line x1="84.95" y1="56.9" x2="84.95" y2="68.0" stroke="#f20000" stroke-width="0.5"/><rect x="83.70" y="56.9" width="2.5" height="6.8" fill="#f20000"/><line x1="88.38" y1="58.8" x2="88.38" y2="66.8" stroke="#23875a" stroke-width="0.5"/><rect x="87.13" y="60.0" width="2.5" height="3.7" fill="#23875a"/><line x1="91.82" y1="47.0" x2="91.82" y2="60.6" stroke="#23875a" stroke-width="0.5"/><rect x="90.57" y="47.7" width="2.5" height="12.3" fill="#23875a"/><line x1="95.25" y1="39.7" x2="95.25" y2="51.4" stroke="#23875a" stroke-width="0.5"/><rect x="94.00" y="40.9" width="2.5" height="6.8" fill="#23875a"/><line x1="98.68" y1="29.8" x2="98.68" y2="41.5" stroke="#23875a" stroke-width="0.5"/><rect x="97.43" y="31.0" width="2.5" height="9.9" fill="#23875a"/><line x1="102.12" y1="28.6" x2="102.12" y2="41.5" stroke="#f20000" stroke-width="0.5"/><rect x="100.87" y="31.0" width="2.5" height="5.6" fill="#f20000"/><line x1="105.55" y1="29.8" x2="105.55" y2="50.1" stroke="#f20000" stroke-width="0.5"/><rect x="104.30" y="36.6" width="2.5" height="12.3" fill="#f20000"/><line x1="108.99" y1="26.0" x2="108.99" y2="48.9" stroke="#23875a" stroke-width="0.5"/><rect x="107.74" y="29.8" width="2.5" height="19.1" fill="#23875a"/><line x1="112.42" y1="20.0" x2="112.42" y2="31.0" stroke="#23875a" stroke-width="0.5"/><rect x="111.17" y="23.0" width="2.5" height="7.4" fill="#23875a"/><line x1="115.85" y1="16.8" x2="115.85" y2="41.5" stroke="#f20000" stroke-width="0.5"/><rect x="114.60" y="22.4" width="2.5" height="18.5" fill="#f20000"/><line x1="119.29" y1="33.5" x2="119.29" y2="51.4" stroke="#f20000" stroke-width="0.5"/><rect x="118.04" y="40.9" width="2.5" height="5.5" fill="#f20000"/><line x1="122.72" y1="40.3" x2="122.72" y2="46.4" stroke="#23875a" stroke-width="0.5"/><rect x="121.47" y="41.5" width="2.5" height="4.9" fill="#23875a"/><line x1="126.16" y1="27.9" x2="126.16" y2="43.9" stroke="#23875a" stroke-width="0.5"/><rect x="124.91" y="36.5" width="2.5" height="6.8" fill="#23875a"/><line x1="129.59" y1="35.3" x2="129.59" y2="50.0" stroke="#f20000" stroke-width="0.5"/><rect x="128.34" y="36.5" width="2.5" height="8.6" fill="#f20000"/><line x1="133.02" y1="42.7" x2="133.02" y2="58.0" stroke="#f20000" stroke-width="0.5"/><rect x="131.77" y="45.1" width="2.5" height="12.4" fill="#f20000"/><line x1="136.46" y1="46.4" x2="136.46" y2="58.7" stroke="#23875a" stroke-width="0.5"/><rect x="135.21" y="47.0" width="2.5" height="10.5" fill="#23875a"/><line x1="139.89" y1="45.8" x2="139.89" y2="53.2" stroke="#f20000" stroke-width="0.5"/><rect x="138.64" y="47.0" width="2.5" height="5.5" fill="#f20000"/><line x1="143.33" y1="27.3" x2="143.33" y2="58.7" stroke="#23875a" stroke-width="0.5"/><rect x="142.08" y="28.5" width="2.5" height="24.0" fill="#23875a"/><line x1="146.76" y1="23.6" x2="146.76" y2="36.5" stroke="#23875a" stroke-width="0.5"/><rect x="145.51" y="25.4" width="2.5" height="3.1" fill="#23875a"/><line x1="150.19" y1="22.3" x2="150.19" y2="38.4" stroke="#f20000" stroke-width="0.5"/><rect x="148.94" y="25.4" width="2.5" height="7.4" fill="#f20000"/><line x1="153.63" y1="31.0" x2="153.63" y2="58.7" stroke="#f20000" stroke-width="0.5"/><rect x="152.38" y="32.8" width="2.5" height="24.1" fill="#f20000"/><line x1="157.06" y1="45.1" x2="157.06" y2="57.5" stroke="#23875a" stroke-width="0.5"/><rect x="155.81" y="47.0" width="2.5" height="9.9" fill="#23875a"/><line x1="160.50" y1="45.1" x2="160.50" y2="50.7" stroke="#f20000" stroke-width="0.5"/><rect x="159.25" y="47.0" width="2.5" height="3.0" fill="#f20000"/><line x1="163.93" y1="39.0" x2="163.93" y2="50.7" stroke="#23875a" stroke-width="0.5"/><rect x="162.68" y="40.8" width="2.5" height="9.2" fill="#23875a"/><line x1="167.36" y1="39.6" x2="167.36" y2="56.9" stroke="#f20000" stroke-width="0.5"/><rect x="166.11" y="40.8" width="2.5" height="13.0" fill="#f20000"/><line x1="170.80" y1="50.7" x2="170.80" y2="57.5" stroke="#23875a" stroke-width="0.5"/><rect x="169.55" y="52.0" width="2.5" height="1.8" fill="#23875a"/><line x1="174.23" y1="47.6" x2="174.23" y2="56.2" stroke="#f20000" stroke-width="0.5"/><rect x="172.98" y="52.0" width="2.5" height="3.6" fill="#f20000"/><line x1="177.67" y1="47.0" x2="177.67" y2="63.6" stroke="#f20000" stroke-width="0.5"/><rect x="176.42" y="55.6" width="2.5" height="3.1" fill="#f20000"/><line x1="181.10" y1="50.7" x2="181.10" y2="59.3" stroke="#23875a" stroke-width="0.5"/><rect x="179.85" y="51.3" width="2.5" height="7.4" fill="#23875a"/><line x1="184.53" y1="46.4" x2="184.53" y2="52.5" stroke="#23875a" stroke-width="0.5"/><rect x="183.28" y="48.2" width="2.5" height="3.7" fill="#23875a"/><line x1="187.97" y1="47.6" x2="187.97" y2="56.2" stroke="#f20000" stroke-width="0.5"/><rect x="186.72" y="48.2" width="2.5" height="6.2" fill="#f20000"/><line x1="191.40" y1="47.0" x2="191.40" y2="55.0" stroke="#23875a" stroke-width="0.5"/><rect x="190.15" y="50.0" width="2.5" height="4.4" fill="#23875a"/><line x1="194.84" y1="48.0" x2="194.84" y2="52.0" stroke="#f20000" stroke-width="0.5"/><rect x="193.59" y="50.0" width="2.5" height="0.8" fill="#f20000"/><line x1="198.27" y1="34.0" x2="198.27" y2="50.7" stroke="#23875a" stroke-width="0.5"/><rect x="197.02" y="40.2" width="2.5" height="10.5" fill="#23875a"/><line x1="201.70" y1="35.3" x2="201.70" y2="40.8" stroke="#23875a" stroke-width="0.5"/><rect x="200.45" y="36.5" width="2.5" height="3.7" fill="#23875a"/><line x1="205.14" y1="29.0" x2="205.14" y2="38.8" stroke="#23875a" stroke-width="0.5"/><rect x="203.89" y="30.8" width="2.5" height="6.2" fill="#23875a"/><line x1="208.57" y1="25.3" x2="208.57" y2="32.0" stroke="#23875a" stroke-width="0.5"/><rect x="207.32" y="26.5" width="2.5" height="4.9" fill="#23875a"/><line x1="212.01" y1="24.7" x2="212.01" y2="26.9" stroke="#23875a" stroke-width="0.5"/><rect x="210.76" y="25.3" width="2.5" height="1.2" fill="#23875a"/><line x1="215.44" y1="19.7" x2="215.44" y2="29.6" stroke="#23875a" stroke-width="0.5"/><rect x="214.19" y="20.3" width="2.5" height="5.0" fill="#23875a"/><line x1="218.87" y1="1.2" x2="218.87" y2="21.0" stroke="#23875a" stroke-width="0.5"/><rect x="217.62" y="9.2" width="2.5" height="11.1" fill="#23875a"/><line x1="222.31" y1="8.6" x2="222.31" y2="22.2" stroke="#f20000" stroke-width="0.5"/><rect x="221.06" y="9.2" width="2.5" height="11.8" fill="#f20000"/><line x1="225.74" y1="14.8" x2="225.74" y2="32.7" stroke="#f20000" stroke-width="0.5"/><rect x="224.49" y="20.3" width="2.5" height="9.9" fill="#f20000"/><line x1="229.18" y1="21.6" x2="229.18" y2="32.7" stroke="#23875a" stroke-width="0.5"/><rect x="227.93" y="24.0" width="2.5" height="7.4" fill="#23875a"/><line x1="232.61" y1="13.6" x2="232.61" y2="30.2" stroke="#23875a" stroke-width="0.5"/><rect x="231.36" y="14.8" width="2.5" height="9.2" fill="#23875a"/><line x1="236.04" y1="3.1" x2="236.04" y2="15.4" stroke="#23875a" stroke-width="0.5"/><rect x="234.79" y="7.4" width="2.5" height="7.4" fill="#23875a"/><line x1="239.48" y1="0.0" x2="239.48" y2="19.7" stroke="#f20000" stroke-width="0.5"/><rect x="238.23" y="7.4" width="2.5" height="10.5" fill="#f20000"/><line x1="242.91" y1="11.0" x2="242.91" y2="21.6" stroke="#f20000" stroke-width="0.5"/><rect x="241.66" y="17.9" width="2.5" height="0.8" fill="#f20000"/><line x1="246.35" y1="16.0" x2="246.35" y2="24.7" stroke="#f20000" stroke-width="0.5"/><rect x="245.10" y="17.9" width="2.5" height="6.1" fill="#f20000"/><line x1="249.78" y1="22.8" x2="249.78" y2="50.6" stroke="#f20000" stroke-width="0.5"/><rect x="248.53" y="23.4" width="2.5" height="13.6" fill="#f20000"/><line x1="253.21" y1="37.0" x2="253.21" y2="43.8" stroke="#f20000" stroke-width="0.5"/><rect x="251.96" y="37.6" width="2.5" height="4.3" fill="#f20000"/><line x1="256.65" y1="33.3" x2="256.65" y2="46.9" stroke="#23875a" stroke-width="0.5"/><rect x="255.40" y="40.0" width="2.5" height="2.5" fill="#23875a"/><line x1="260.08" y1="39.5" x2="260.08" y2="53.6" stroke="#f20000" stroke-width="0.5"/><rect x="258.83" y="40.0" width="2.5" height="12.4" fill="#f20000"/><line x1="263.52" y1="42.0" x2="263.52" y2="53.0" stroke="#23875a" stroke-width="0.5"/><rect x="262.27" y="43.8" width="2.5" height="8.6" fill="#23875a"/><line x1="266.95" y1="43.8" x2="266.95" y2="48.7" stroke="#f20000" stroke-width="0.5"/><rect x="265.70" y="44.4" width="2.5" height="3.1" fill="#f20000"/><line x1="270.38" y1="38.2" x2="270.38" y2="51.8" stroke="#23875a" stroke-width="0.5"/><rect x="269.13" y="39.5" width="2.5" height="7.4" fill="#23875a"/><line x1="273.82" y1="38.5" x2="273.82" y2="48.1" stroke="#f20000" stroke-width="0.5"/><rect x="272.57" y="40.0" width="2.5" height="1.3" fill="#f20000"/><line x1="277.25" y1="40.0" x2="277.25" y2="51.5" stroke="#f20000" stroke-width="0.5"/><rect x="276.00" y="41.3" width="2.5" height="4.4" fill="#f20000"/><line x1="280.69" y1="31.6" x2="280.69" y2="46.8" stroke="#23875a" stroke-width="0.5"/><rect x="279.44" y="32.1" width="2.5" height="13.6" fill="#23875a"/><line x1="284.12" y1="18.6" x2="284.12" y2="33.7" stroke="#23875a" stroke-width="0.5"/><rect x="282.87" y="21.2" width="2.5" height="10.9" fill="#23875a"/><line x1="287.55" y1="16.0" x2="287.55" y2="28.5" stroke="#23875a" stroke-width="0.5"/><rect x="286.30" y="20.1" width="2.5" height="1.1" fill="#23875a"/><line x1="290.99" y1="19.6" x2="290.99" y2="30.0" stroke="#f20000" stroke-width="0.5"/><rect x="289.74" y="20.1" width="2.5" height="8.4" fill="#f20000"/><line x1="294.42" y1="17.0" x2="294.42" y2="34.7" stroke="#f20000" stroke-width="0.5"/><rect x="293.17" y="28.5" width="2.5" height="3.1" fill="#f20000"/><line x1="297.86" y1="14.4" x2="297.86" y2="32.1" stroke="#23875a" stroke-width="0.5"/><rect x="296.61" y="14.9" width="2.5" height="16.7" fill="#23875a"/><line x1="301.29" y1="12.8" x2="301.29" y2="33.2" stroke="#f20000" stroke-width="0.5"/><rect x="300.04" y="14.9" width="2.5" height="17.2" fill="#f20000"/><line x1="304.72" y1="24.8" x2="304.72" y2="35.3" stroke="#23875a" stroke-width="0.5"/><rect x="303.47" y="28.0" width="2.5" height="4.1" fill="#23875a"/><line x1="308.16" y1="27.4" x2="308.16" y2="41.5" stroke="#f20000" stroke-width="0.5"/><rect x="306.91" y="28.0" width="2.5" height="7.3" fill="#f20000"/><line x1="311.59" y1="21.7" x2="311.59" y2="248.0" stroke="#f20000" stroke-width="0.5"/><rect x="310.34" y="35.3" width="2.5" height="70.1" fill="#f20000"/><line x1="315.03" y1="82.0" x2="315.03" y2="109.6" stroke="#23875a" stroke-width="0.5"/><rect x="313.78" y="102.5" width="2.5" height="2.9" fill="#23875a"/><line x1="318.46" y1="82.6" x2="318.46" y2="107.7" stroke="#23875a" stroke-width="0.5"/><rect x="317.21" y="86.8" width="2.5" height="15.7" fill="#23875a"/><line x1="321.89" y1="74.0" x2="321.89" y2="89.7" stroke="#23875a" stroke-width="0.5"/><rect x="320.64" y="78.8" width="2.5" height="8.0" fill="#23875a"/><line x1="325.33" y1="76.9" x2="325.33" y2="97.8" stroke="#f20000" stroke-width="0.5"/><rect x="324.08" y="78.3" width="2.5" height="8.5" fill="#f20000"/><line x1="328.76" y1="80.7" x2="328.76" y2="95.9" stroke="#f20000" stroke-width="0.5"/><rect x="327.51" y="86.4" width="2.5" height="7.1" fill="#f20000"/><line x1="332.20" y1="89.2" x2="332.20" y2="103.0" stroke="#f20000" stroke-width="0.5"/><rect x="330.95" y="93.0" width="2.5" height="8.1" fill="#f20000"/><line x1="335.63" y1="98.2" x2="335.63" y2="115.0" stroke="#f20000" stroke-width="0.5"/><rect x="334.38" y="101.1" width="2.5" height="7.6" fill="#f20000"/><line x1="339.06" y1="104.0" x2="339.06" y2="109.0" stroke="#23875a" stroke-width="0.5"/><rect x="337.81" y="105.8" width="2.5" height="2.9" fill="#23875a"/><line x1="342.50" y1="98.2" x2="342.50" y2="108.7" stroke="#23875a" stroke-width="0.5"/><rect x="341.25" y="101.6" width="2.5" height="4.7" fill="#23875a"/><line x1="345.93" y1="93.5" x2="345.93" y2="104.4" stroke="#23875a" stroke-width="0.5"/><rect x="344.68" y="95.9" width="2.5" height="5.7" fill="#23875a"/><line x1="349.37" y1="90.2" x2="349.37" y2="104.4" stroke="#f20000" stroke-width="0.5"/><rect x="348.12" y="97.3" width="2.5" height="4.3" fill="#f20000"/><line x1="352.80" y1="100.6" x2="352.80" y2="111.5" stroke="#f20000" stroke-width="0.5"/><rect x="351.55" y="101.6" width="2.5" height="5.2" fill="#f20000"/><line x1="356.23" y1="99.0" x2="356.23" y2="107.0" stroke="#23875a" stroke-width="0.5"/><rect x="354.98" y="101.6" width="2.5" height="5.2" fill="#23875a"/><line x1="359.67" y1="94.0" x2="359.67" y2="102.0" stroke="#23875a" stroke-width="0.5"/><rect x="358.42" y="97.3" width="2.5" height="4.3" fill="#23875a"/><line x1="363.10" y1="93.0" x2="363.10" y2="99.7" stroke="#23875a" stroke-width="0.5"/><rect x="361.85" y="95.9" width="2.5" height="0.9" fill="#23875a"/><line x1="366.54" y1="87.3" x2="366.54" y2="97.8" stroke="#23875a" stroke-width="0.5"/><rect x="365.29" y="89.7" width="2.5" height="6.6" fill="#23875a"/><line x1="369.97" y1="86.4" x2="369.97" y2="94.0" stroke="#f20000" stroke-width="0.5"/><rect x="368.72" y="89.7" width="2.5" height="3.8" fill="#f20000"/><line x1="373.40" y1="89.7" x2="373.40" y2="102.0" stroke="#f20000" stroke-width="0.5"/><rect x="372.15" y="93.0" width="2.5" height="5.7" fill="#f20000"/><line x1="376.84" y1="91.0" x2="376.84" y2="99.2" stroke="#23875a" stroke-width="0.5"/><rect x="375.59" y="97.3" width="2.5" height="1.4" fill="#23875a"/><line x1="380.27" y1="94.7" x2="380.27" y2="115.0" stroke="#f20000" stroke-width="0.5"/><rect x="379.02" y="97.3" width="2.5" height="12.4" fill="#f20000"/><line x1="383.71" y1="106.8" x2="383.71" y2="112.0" stroke="#23875a" stroke-width="0.5"/><rect x="382.46" y="108.8" width="2.5" height="1.0" fill="#23875a"/><line x1="387.14" y1="103.0" x2="387.14" y2="110.0" stroke="#23875a" stroke-width="0.5"/><rect x="385.89" y="103.6" width="2.5" height="5.7" fill="#23875a"/><line x1="390.57" y1="101.0" x2="390.57" y2="109.8" stroke="#23875a" stroke-width="0.5"/><rect x="389.32" y="102.5" width="2.5" height="1.1" fill="#23875a"/><line x1="394.01" y1="102.0" x2="394.01" y2="132.3" stroke="#f20000" stroke-width="0.5"/><rect x="392.76" y="102.5" width="2.5" height="25.1" fill="#f20000"/><line x1="397.44" y1="122.9" x2="397.44" y2="142.2" stroke="#f20000" stroke-width="0.5"/><rect x="396.19" y="127.6" width="2.5" height="4.7" fill="#f20000"/><line x1="400.88" y1="121.8" x2="400.88" y2="139.6" stroke="#23875a" stroke-width="0.5"/><rect x="399.63" y="122.4" width="2.5" height="9.9" fill="#23875a"/><line x1="404.31" y1="121.3" x2="404.31" y2="130.7" stroke="#f20000" stroke-width="0.5"/><rect x="403.06" y="121.3" width="2.5" height="1.6" fill="#f20000"/><line x1="407.74" y1="80.7" x2="407.74" y2="122.9" stroke="#23875a" stroke-width="0.5"/><rect x="406.49" y="85.9" width="2.5" height="36.5" fill="#23875a"/><line x1="411.18" y1="68.7" x2="411.18" y2="95.8" stroke="#f20000" stroke-width="0.5"/><rect x="409.93" y="85.9" width="2.5" height="0.8" fill="#f20000"/><line x1="414.61" y1="84.8" x2="414.61" y2="98.9" stroke="#f20000" stroke-width="0.5"/><rect x="413.36" y="86.4" width="2.5" height="1.0" fill="#f20000"/><line x1="418.05" y1="82.2" x2="418.05" y2="93.2" stroke="#23875a" stroke-width="0.5"/><rect x="416.80" y="85.4" width="2.5" height="2.0" fill="#23875a"/><line x1="421.48" y1="78.0" x2="421.48" y2="98.9" stroke="#f20000" stroke-width="0.5"/><rect x="420.23" y="85.4" width="2.5" height="13.0" fill="#f20000"/><line x1="424.91" y1="92.6" x2="424.91" y2="108.8" stroke="#f20000" stroke-width="0.5"/><rect x="423.66" y="98.4" width="2.5" height="7.8" fill="#f20000"/><line x1="428.35" y1="99.4" x2="428.35" y2="116.6" stroke="#f20000" stroke-width="0.5"/><rect x="427.10" y="106.2" width="2.5" height="4.2" fill="#f20000"/><line x1="431.78" y1="106.7" x2="431.78" y2="117.1" stroke="#f20000" stroke-width="0.5"/><rect x="430.53" y="110.9" width="2.5" height="2.6" fill="#f20000"/><line x1="435.22" y1="105.0" x2="435.22" y2="113.6" stroke="#23875a" stroke-width="0.5"/><rect x="433.97" y="112.3" width="2.5" height="1.0" fill="#23875a"/><line x1="438.65" y1="108.0" x2="438.65" y2="120.4" stroke="#f20000" stroke-width="0.5"/><rect x="437.40" y="112.3" width="2.5" height="2.5" fill="#f20000"/><line x1="442.08" y1="110.5" x2="442.08" y2="124.7" stroke="#f20000" stroke-width="0.5"/><rect x="440.83" y="114.8" width="2.5" height="8.0" fill="#f20000"/><line x1="445.52" y1="114.2" x2="445.52" y2="124.7" stroke="#23875a" stroke-width="0.5"/><rect x="444.27" y="117.3" width="2.5" height="5.5" fill="#23875a"/><line x1="448.95" y1="112.3" x2="448.95" y2="128.4" stroke="#f20000" stroke-width="0.5"/><rect x="447.70" y="117.3" width="2.5" height="3.1" fill="#f20000"/><line x1="452.39" y1="113.0" x2="452.39" y2="132.7" stroke="#f20000" stroke-width="0.5"/><rect x="451.14" y="121.0" width="2.5" height="9.2" fill="#f20000"/><line x1="455.82" y1="127.2" x2="455.82" y2="147.5" stroke="#f20000" stroke-width="0.5"/><rect x="454.57" y="130.2" width="2.5" height="11.8" fill="#f20000"/><line x1="459.25" y1="142.0" x2="459.25" y2="147.5" stroke="#f20000" stroke-width="0.5"/><rect x="458.00" y="142.6" width="2.5" height="1.8" fill="#f20000"/><line x1="462.69" y1="141.4" x2="462.69" y2="148.1" stroke="#f20000" stroke-width="0.5"/><rect x="461.44" y="145.0" width="2.5" height="2.5" fill="#f20000"/><line x1="466.12" y1="139.5" x2="466.12" y2="148.1" stroke="#23875a" stroke-width="0.5"/><rect x="464.87" y="142.6" width="2.5" height="4.9" fill="#23875a"/><line x1="469.56" y1="142.0" x2="469.56" y2="152.5" stroke="#f20000" stroke-width="0.5"/><rect x="468.31" y="142.6" width="2.5" height="3.1" fill="#f20000"/><line x1="472.99" y1="141.4" x2="472.99" y2="148.1" stroke="#23875a" stroke-width="0.5"/><rect x="471.74" y="142.6" width="2.5" height="2.4" fill="#23875a"/><line x1="476.42" y1="139.5" x2="476.42" y2="143.8" stroke="#f20000" stroke-width="0.5"/><rect x="475.17" y="142.3" width="2.5" height="0.8" fill="#f20000"/><line x1="479.86" y1="140.1" x2="479.86" y2="146.9" stroke="#f20000" stroke-width="0.5"/><rect x="478.61" y="143.2" width="2.5" height="3.1" fill="#f20000"/><line x1="483.29" y1="145.0" x2="483.29" y2="148.8" stroke="#f20000" stroke-width="0.5"/><rect x="482.04" y="146.3" width="2.5" height="1.2" fill="#f20000"/><line x1="486.73" y1="145.7" x2="486.73" y2="151.2" stroke="#f20000" stroke-width="0.5"/><rect x="485.48" y="147.5" width="2.5" height="3.1" fill="#f20000"/><line x1="490.16" y1="150.6" x2="490.16" y2="166.0" stroke="#f20000" stroke-width="0.5"/><rect x="488.91" y="151.2" width="2.5" height="10.2" fill="#f20000"/><line x1="493.59" y1="146.0" x2="493.59" y2="162.0" stroke="#23875a" stroke-width="0.5"/><rect x="492.34" y="148.3" width="2.5" height="13.1" fill="#23875a"/><line x1="497.03" y1="139.2" x2="497.03" y2="149.0" stroke="#23875a" stroke-width="0.5"/><rect x="495.78" y="141.0" width="2.5" height="7.3" fill="#23875a"/><line x1="500.46" y1="140.4" x2="500.46" y2="147.8" stroke="#f20000" stroke-width="0.5"/><rect x="499.21" y="141.0" width="2.5" height="5.6" fill="#f20000"/><line x1="503.90" y1="145.5" x2="503.90" y2="158.6" stroke="#f20000" stroke-width="0.5"/><rect x="502.65" y="146.6" width="2.5" height="9.7" fill="#f20000"/><line x1="507.33" y1="152.9" x2="507.33" y2="158.6" stroke="#23875a" stroke-width="0.5"/><rect x="506.08" y="155.8" width="2.5" height="1.1" fill="#23875a"/><line x1="510.76" y1="154.0" x2="510.76" y2="160.9" stroke="#f20000" stroke-width="0.5"/><rect x="509.51" y="155.8" width="2.5" height="2.2" fill="#f20000"/><line x1="514.20" y1="152.9" x2="514.20" y2="158.6" stroke="#23875a" stroke-width="0.5"/><rect x="512.95" y="155.8" width="2.5" height="2.2" fill="#23875a"/><line x1="517.63" y1="139.2" x2="517.63" y2="156.3" stroke="#23875a" stroke-width="0.5"/><rect x="516.38" y="145.5" width="2.5" height="10.3" fill="#23875a"/><line x1="521.07" y1="144.4" x2="521.07" y2="152.3" stroke="#f20000" stroke-width="0.5"/><rect x="519.82" y="145.3" width="2.5" height="6.5" fill="#f20000"/><line x1="524.50" y1="151.8" x2="524.50" y2="162.0" stroke="#f20000" stroke-width="0.5"/><rect x="523.25" y="152.1" width="2.5" height="7.6" fill="#f20000"/><line x1="527.93" y1="158.6" x2="527.93" y2="166.6" stroke="#f20000" stroke-width="0.5"/><rect x="526.68" y="159.7" width="2.5" height="2.9" fill="#f20000"/><line x1="531.37" y1="160.3" x2="531.37" y2="162.6" stroke="#23875a" stroke-width="0.5"/><rect x="530.12" y="160.9" width="2.5" height="1.5" fill="#23875a"/><line x1="534.80" y1="160.9" x2="534.80" y2="167.6" stroke="#f20000" stroke-width="0.5"/><rect x="533.55" y="161.4" width="2.5" height="5.7" fill="#f20000"/><line x1="538.24" y1="163.5" x2="538.24" y2="173.9" stroke="#f20000" stroke-width="0.5"/><rect x="536.99" y="167.1" width="2.5" height="3.2" fill="#f20000"/><line x1="541.67" y1="168.2" x2="541.67" y2="171.3" stroke="#f20000" stroke-width="0.5"/><rect x="540.42" y="170.3" width="2.5" height="0.8" fill="#f20000"/><line x1="545.10" y1="166.1" x2="545.10" y2="176.0" stroke="#f20000" stroke-width="0.5"/><rect x="543.85" y="170.0" width="2.5" height="5.5" fill="#f20000"/><line x1="548.54" y1="170.8" x2="548.54" y2="180.7" stroke="#f20000" stroke-width="0.5"/><rect x="547.29" y="175.5" width="2.5" height="4.2" fill="#f20000"/><line x1="551.97" y1="170.8" x2="551.97" y2="179.7" stroke="#23875a" stroke-width="0.5"/><rect x="550.72" y="172.9" width="2.5" height="6.2" fill="#23875a"/><line x1="555.41" y1="172.4" x2="555.41" y2="174.7" stroke="#f20000" stroke-width="0.5"/><rect x="554.16" y="173.2" width="2.5" height="1.2" fill="#f20000"/><line x1="558.84" y1="172.4" x2="558.84" y2="178.6" stroke="#f20000" stroke-width="0.5"/><rect x="557.59" y="174.2" width="2.5" height="2.3" fill="#f20000"/><line x1="562.27" y1="172.9" x2="562.27" y2="178.6" stroke="#f20000" stroke-width="0.5"/><rect x="561.02" y="176.0" width="2.5" height="1.6" fill="#f20000"/><line x1="565.71" y1="176.5" x2="565.71" y2="179.7" stroke="#f20000" stroke-width="0.5"/><rect x="564.46" y="177.0" width="2.5" height="1.6" fill="#f20000"/><line x1="569.14" y1="177.6" x2="569.14" y2="181.2" stroke="#f20000" stroke-width="0.5"/><rect x="567.89" y="178.4" width="2.5" height="1.8" fill="#f20000"/><line x1="572.58" y1="179.1" x2="572.58" y2="183.0" stroke="#f20000" stroke-width="0.5"/><rect x="571.33" y="180.2" width="2.5" height="2.6" fill="#f20000"/><line x1="576.01" y1="179.7" x2="576.01" y2="184.4" stroke="#23875a" stroke-width="0.5"/><rect x="574.76" y="181.2" width="2.5" height="1.6" fill="#23875a"/><line x1="579.44" y1="168.2" x2="579.44" y2="181.8" stroke="#23875a" stroke-width="0.5"/><rect x="578.19" y="169.2" width="2.5" height="12.0" fill="#23875a"/><line x1="582.88" y1="168.9" x2="582.88" y2="173.8" stroke="#f20000" stroke-width="0.5"/><rect x="581.63" y="169.5" width="2.5" height="4.0" fill="#f20000"/><line x1="586.31" y1="169.4" x2="586.31" y2="175.2" stroke="#f20000" stroke-width="0.5"/><rect x="585.06" y="173.1" width="2.5" height="1.5" fill="#f20000"/><line x1="589.75" y1="173.6" x2="589.75" y2="176.2" stroke="#f20000" stroke-width="0.5"/><rect x="588.50" y="174.5" width="2.5" height="1.2" fill="#f20000"/><line x1="593.18" y1="173.1" x2="593.18" y2="177.8" stroke="#f20000" stroke-width="0.5"/><rect x="591.93" y="175.2" width="2.5" height="1.6" fill="#f20000"/><line x1="596.61" y1="161.6" x2="596.61" y2="177.8" stroke="#23875a" stroke-width="0.5"/><rect x="595.36" y="164.2" width="2.5" height="12.6" fill="#23875a"/><line x1="600.05" y1="153.3" x2="600.05" y2="165.8" stroke="#23875a" stroke-width="0.5"/><rect x="598.80" y="153.8" width="2.5" height="9.9" fill="#23875a"/><line x1="603.48" y1="150.1" x2="603.48" y2="156.9" stroke="#f20000" stroke-width="0.5"/><rect x="602.23" y="153.3" width="2.5" height="2.6" fill="#f20000"/><line x1="606.92" y1="154.3" x2="606.92" y2="156.4" stroke="#23875a" stroke-width="0.5"/><rect x="605.67" y="155.1" width="2.5" height="0.8" fill="#23875a"/><line x1="610.35" y1="148.6" x2="610.35" y2="157.4" stroke="#23875a" stroke-width="0.5"/><rect x="609.10" y="151.2" width="2.5" height="4.2" fill="#23875a"/><line x1="613.78" y1="147.5" x2="613.78" y2="156.4" stroke="#23875a" stroke-width="0.5"/><rect x="612.53" y="149.1" width="2.5" height="1.6" fill="#23875a"/><line x1="617.22" y1="147.5" x2="617.22" y2="156.4" stroke="#f20000" stroke-width="0.5"/><rect x="615.97" y="148.6" width="2.5" height="6.8" fill="#f20000"/><line x1="620.65" y1="154.3" x2="620.65" y2="157.4" stroke="#f20000" stroke-width="0.5"/><rect x="619.40" y="155.4" width="2.5" height="1.5" fill="#f20000"/><line x1="624.09" y1="155.9" x2="624.09" y2="160.6" stroke="#f20000" stroke-width="0.5"/><rect x="622.84" y="156.9" width="2.5" height="1.6" fill="#f20000"/><line x1="627.52" y1="155.4" x2="627.52" y2="159.0" stroke="#23875a" stroke-width="0.5"/><rect x="626.27" y="158.0" width="2.5" height="0.8" fill="#23875a"/><line x1="630.95" y1="155.9" x2="630.95" y2="161.1" stroke="#f20000" stroke-width="0.5"/><rect x="629.70" y="158.0" width="2.5" height="1.5" fill="#f20000"/><line x1="634.39" y1="153.8" x2="634.39" y2="161.8" stroke="#f20000" stroke-width="0.5"/><rect x="633.14" y="159.0" width="2.5" height="2.0" fill="#f20000"/><line x1="637.82" y1="142.5" x2="637.82" y2="160.6" stroke="#23875a" stroke-width="0.5"/><rect x="636.57" y="146.0" width="2.5" height="14.6" fill="#23875a"/><line x1="641.26" y1="144.9" x2="641.26" y2="151.7" stroke="#f20000" stroke-width="0.5"/><rect x="640.01" y="145.4" width="2.5" height="4.2" fill="#f20000"/><line x1="644.69" y1="148.6" x2="644.69" y2="156.9" stroke="#f20000" stroke-width="0.5"/><rect x="643.44" y="150.1" width="2.5" height="6.3" fill="#f20000"/><line x1="648.12" y1="154.8" x2="648.12" y2="159.5" stroke="#23875a" stroke-width="0.5"/><rect x="646.87" y="155.9" width="2.5" height="1.0" fill="#23875a"/><line x1="651.56" y1="149.1" x2="651.56" y2="156.9" stroke="#23875a" stroke-width="0.5"/><rect x="650.31" y="153.3" width="2.5" height="3.1" fill="#23875a"/><line x1="654.99" y1="151.2" x2="654.99" y2="160.0" stroke="#f20000" stroke-width="0.5"/><rect x="653.74" y="153.3" width="2.5" height="6.2" fill="#f20000"/><line x1="658.43" y1="159.5" x2="658.43" y2="173.6" stroke="#f20000" stroke-width="0.5"/><rect x="657.18" y="159.5" width="2.5" height="3.2" fill="#f20000"/><line x1="661.86" y1="161.1" x2="661.86" y2="171.0" stroke="#f20000" stroke-width="0.5"/><rect x="660.61" y="162.1" width="2.5" height="8.4" fill="#f20000"/><line x1="665.29" y1="164.2" x2="665.29" y2="171.0" stroke="#23875a" stroke-width="0.5"/><rect x="664.04" y="166.3" width="2.5" height="4.2" fill="#23875a"/><line x1="668.73" y1="165.8" x2="668.73" y2="169.4" stroke="#f20000" stroke-width="0.5"/><rect x="667.48" y="166.3" width="2.5" height="2.1" fill="#f20000"/><line x1="672.16" y1="165.3" x2="672.16" y2="170.0" stroke="#f20000" stroke-width="0.5"/><rect x="670.91" y="168.2" width="2.5" height="0.8" fill="#f20000"/><line x1="675.60" y1="166.8" x2="675.60" y2="170.0" stroke="#23875a" stroke-width="0.5"/><rect x="674.35" y="167.9" width="2.5" height="1.0" fill="#23875a"/><line x1="679.03" y1="167.4" x2="679.03" y2="176.8" stroke="#f20000" stroke-width="0.5"/><rect x="677.78" y="167.9" width="2.5" height="6.8" fill="#f20000"/><line x1="682.46" y1="170.0" x2="682.46" y2="175.2" stroke="#23875a" stroke-width="0.5"/><rect x="681.21" y="171.0" width="2.5" height="3.7" fill="#23875a"/><line x1="685.90" y1="170.0" x2="685.90" y2="173.1" stroke="#23875a" stroke-width="0.5"/><rect x="684.65" y="171.0" width="2.5" height="0.8" fill="#23875a"/><line x1="689.33" y1="170.0" x2="689.33" y2="173.1" stroke="#f20000" stroke-width="0.5"/><rect x="688.08" y="171.0" width="2.5" height="1.0" fill="#f20000"/><line x1="692.77" y1="170.8" x2="692.77" y2="182.2" stroke="#f20000" stroke-width="0.5"/><rect x="691.52" y="171.4" width="2.5" height="9.1" fill="#f20000"/><line x1="696.20" y1="179.4" x2="696.20" y2="184.5" stroke="#f20000" stroke-width="0.5"/><rect x="694.95" y="180.3" width="2.5" height="3.0" fill="#f20000"/><line x1="699.63" y1="182.8" x2="699.63" y2="201.0" stroke="#f20000" stroke-width="0.5"/><rect x="698.38" y="183.3" width="2.5" height="9.2" fill="#f20000"/><line x1="703.07" y1="191.3" x2="703.07" y2="197.0" stroke="#f20000" stroke-width="0.5"/><rect x="701.82" y="192.2" width="2.5" height="3.1" fill="#f20000"/><line x1="706.50" y1="190.2" x2="706.50" y2="197.0" stroke="#23875a" stroke-width="0.5"/><rect x="705.25" y="192.1" width="2.5" height="3.2" fill="#23875a"/><line x1="709.94" y1="191.3" x2="709.94" y2="198.7" stroke="#f20000" stroke-width="0.5"/><rect x="708.69" y="192.1" width="2.5" height="3.2" fill="#f20000"/><line x1="713.37" y1="192.5" x2="713.37" y2="198.7" stroke="#f20000" stroke-width="0.5"/><rect x="712.12" y="195.1" width="2.5" height="2.5" fill="#f20000"/><line x1="716.80" y1="195.9" x2="716.80" y2="211.3" stroke="#f20000" stroke-width="0.5"/><rect x="715.55" y="197.0" width="2.5" height="14.3" fill="#f20000"/><line x1="720.24" y1="201.0" x2="720.24" y2="219.2" stroke="#23875a" stroke-width="0.5"/><rect x="718.99" y="202.7" width="2.5" height="8.6" fill="#23875a"/><line x1="723.67" y1="200.4" x2="723.67" y2="204.4" stroke="#23875a" stroke-width="0.5"/><rect x="722.42" y="202.1" width="2.5" height="0.9" fill="#23875a"/><line x1="727.11" y1="202.1" x2="727.11" y2="205.0" stroke="#f20000" stroke-width="0.5"/><rect x="725.86" y="203.0" width="2.5" height="1.4" fill="#f20000"/><line x1="730.54" y1="204.4" x2="730.54" y2="207.3" stroke="#f20000" stroke-width="0.5"/><rect x="729.29" y="205.0" width="2.5" height="1.1" fill="#f20000"/><line x1="733.97" y1="205.6" x2="733.97" y2="208.4" stroke="#f20000" stroke-width="0.5"/><rect x="732.72" y="206.1" width="2.5" height="1.7" fill="#f20000"/><line x1="737.41" y1="207.3" x2="737.41" y2="210.9" stroke="#f20000" stroke-width="0.5"/><rect x="736.16" y="207.8" width="2.5" height="2.1" fill="#f20000"/><line x1="740.84" y1="207.3" x2="740.84" y2="210.4" stroke="#23875a" stroke-width="0.5"/><rect x="739.59" y="208.3" width="2.5" height="1.6" fill="#23875a"/><line x1="744.28" y1="204.1" x2="744.28" y2="209.4" stroke="#23875a" stroke-width="0.5"/><rect x="743.03" y="204.7" width="2.5" height="3.6" fill="#23875a"/><line x1="747.71" y1="198.9" x2="747.71" y2="205.7" stroke="#23875a" stroke-width="0.5"/><rect x="746.46" y="199.4" width="2.5" height="5.8" fill="#23875a"/><line x1="751.14" y1="198.9" x2="751.14" y2="204.1" stroke="#f20000" stroke-width="0.5"/><rect x="749.89" y="199.4" width="2.5" height="4.2" fill="#f20000"/><line x1="754.58" y1="201.5" x2="754.58" y2="204.7" stroke="#23875a" stroke-width="0.5"/><rect x="753.33" y="202.0" width="2.5" height="1.6" fill="#23875a"/><line x1="758.01" y1="201.5" x2="758.01" y2="204.7" stroke="#f20000" stroke-width="0.5"/><rect x="756.76" y="202.0" width="2.5" height="2.5" fill="#f20000"/><line x1="761.45" y1="203.6" x2="761.45" y2="206.8" stroke="#f20000" stroke-width="0.5"/><rect x="760.20" y="204.1" width="2.5" height="2.4" fill="#f20000"/><line x1="764.88" y1="206.2" x2="764.88" y2="208.6" stroke="#f20000" stroke-width="0.5"/><rect x="763.63" y="206.5" width="2.5" height="1.5" fill="#f20000"/><line x1="768.31" y1="203.6" x2="768.31" y2="208.3" stroke="#23875a" stroke-width="0.5"/><rect x="767.06" y="204.1" width="2.5" height="3.7" fill="#23875a"/><line x1="771.75" y1="202.6" x2="771.75" y2="204.7" stroke="#23875a" stroke-width="0.5"/><rect x="770.50" y="203.1" width="2.5" height="1.0" fill="#23875a"/><line x1="775.18" y1="203.1" x2="775.18" y2="206.8" stroke="#f20000" stroke-width="0.5"/><rect x="773.93" y="203.4" width="2.5" height="3.1" fill="#f20000"/><line x1="778.62" y1="206.2" x2="778.62" y2="210.4" stroke="#f20000" stroke-width="0.5"/><rect x="777.37" y="206.5" width="2.5" height="3.4" fill="#f20000"/><line x1="782.05" y1="209.4" x2="782.05" y2="211.4" stroke="#f20000" stroke-width="0.5"/><rect x="780.80" y="209.9" width="2.5" height="1.2" fill="#f20000"/><line x1="785.48" y1="179.0" x2="785.48" y2="211.4" stroke="#23875a" stroke-width="0.5"/><rect x="784.23" y="184.8" width="2.5" height="26.3" fill="#23875a"/><line x1="788.92" y1="182.8" x2="788.92" y2="193.0" stroke="#f20000" stroke-width="0.5"/><rect x="787.67" y="184.9" width="2.5" height="3.4" fill="#f20000"/><line x1="792.35" y1="183.2" x2="792.35" y2="191.8" stroke="#f20000" stroke-width="0.5"/><rect x="791.10" y="187.9" width="2.5" height="0.8" fill="#f20000"/><line x1="795.79" y1="184.0" x2="795.79" y2="197.7" stroke="#23875a" stroke-width="0.5"/><rect x="794.54" y="184.5" width="2.5" height="4.3" fill="#23875a"/><line x1="799.22" y1="183.2" x2="799.22" y2="194.7" stroke="#f20000" stroke-width="0.5"/><rect x="797.97" y="184.5" width="2.5" height="8.5" fill="#f20000"/><line x1="802.65" y1="188.3" x2="802.65" y2="194.7" stroke="#f20000" stroke-width="0.5"/><rect x="801.40" y="192.6" width="2.5" height="1.7" fill="#f20000"/><line x1="806.09" y1="190.9" x2="806.09" y2="195.6" stroke="#23875a" stroke-width="0.5"/><rect x="804.84" y="192.6" width="2.5" height="1.3" fill="#23875a"/><line x1="809.52" y1="190.5" x2="809.52" y2="193.5" stroke="#23875a" stroke-width="0.5"/><rect x="808.27" y="192.4" width="2.5" height="0.8" fill="#23875a"/><line x1="812.96" y1="192.0" x2="812.96" y2="195.6" stroke="#f20000" stroke-width="0.5"/><rect x="811.71" y="192.2" width="2.5" height="1.0" fill="#f20000"/><line x1="816.39" y1="192.0" x2="816.39" y2="197.3" stroke="#f20000" stroke-width="0.5"/><rect x="815.14" y="192.6" width="2.5" height="3.0" fill="#f20000"/><line x1="819.82" y1="194.3" x2="819.82" y2="198.6" stroke="#f20000" stroke-width="0.5"/><rect x="818.57" y="195.2" width="2.5" height="3.0" fill="#f20000"/><line x1="823.26" y1="195.4" x2="823.26" y2="198.6" stroke="#23875a" stroke-width="0.5"/><rect x="822.01" y="197.1" width="2.5" height="0.8" fill="#23875a"/><line x1="826.69" y1="194.7" x2="826.69" y2="198.2" stroke="#23875a" stroke-width="0.5"/><rect x="825.44" y="195.2" width="2.5" height="2.5" fill="#23875a"/><line x1="830.13" y1="192.0" x2="830.13" y2="196.0" stroke="#f20000" stroke-width="0.5"/><rect x="828.88" y="192.6" width="2.5" height="2.8" fill="#f20000"/><line x1="833.56" y1="191.3" x2="833.56" y2="196.5" stroke="#23875a" stroke-width="0.5"/><rect x="832.31" y="192.6" width="2.5" height="3.0" fill="#23875a"/><line x1="836.99" y1="192.4" x2="836.99" y2="194.3" stroke="#f20000" stroke-width="0.5"/><rect x="835.74" y="193.0" width="2.5" height="0.8" fill="#f20000"/><line x1="840.43" y1="192.2" x2="840.43" y2="198.2" stroke="#f20000" stroke-width="0.5"/><rect x="839.18" y="193.9" width="2.5" height="3.8" fill="#f20000"/><line x1="843.86" y1="196.9" x2="843.86" y2="200.7" stroke="#f20000" stroke-width="0.5"/><rect x="842.61" y="197.1" width="2.5" height="3.2" fill="#f20000"/><line x1="847.30" y1="198.2" x2="847.30" y2="200.7" stroke="#23875a" stroke-width="0.5"/><rect x="846.05" y="198.8" width="2.5" height="1.5" fill="#23875a"/><line x1="850.73" y1="184.5" x2="850.73" y2="198.6" stroke="#23875a" stroke-width="0.5"/><rect x="849.48" y="186.2" width="2.5" height="12.0" fill="#23875a"/><line x1="854.16" y1="185.8" x2="854.16" y2="187.9" stroke="#f20000" stroke-width="0.5"/><rect x="852.91" y="186.2" width="2.5" height="1.3" fill="#f20000"/><line x1="857.60" y1="185.4" x2="857.60" y2="191.8" stroke="#f20000" stroke-width="0.5"/><rect x="856.35" y="187.1" width="2.5" height="3.1" fill="#f20000"/><line x1="861.03" y1="189.6" x2="861.03" y2="194.3" stroke="#f20000" stroke-width="0.5"/><rect x="859.78" y="190.2" width="2.5" height="3.5" fill="#f20000"/><line x1="864.47" y1="192.2" x2="864.47" y2="195.6" stroke="#f20000" stroke-width="0.5"/><rect x="863.22" y="192.8" width="2.5" height="2.3" fill="#f20000"/><line x1="867.90" y1="194.3" x2="867.90" y2="196.9" stroke="#f20000" stroke-width="0.5"/><rect x="866.65" y="195.1" width="2.5" height="1.4" fill="#f20000"/><line x1="871.33" y1="196.0" x2="871.33" y2="201.3" stroke="#f20000" stroke-width="0.5"/><rect x="870.08" y="196.5" width="2.5" height="4.5" fill="#f20000"/><line x1="874.77" y1="195.1" x2="874.77" y2="200.8" stroke="#23875a" stroke-width="0.5"/><rect x="873.52" y="199.3" width="2.5" height="0.9" fill="#23875a"/><line x1="878.20" y1="199.0" x2="878.20" y2="202.8" stroke="#f20000" stroke-width="0.5"/><rect x="876.95" y="199.3" width="2.5" height="2.3" fill="#f20000"/><line x1="881.64" y1="199.5" x2="881.64" y2="201.0" stroke="#f20000" stroke-width="0.5"/><rect x="880.39" y="200.1" width="2.5" height="0.8" fill="#f20000"/></g><polyline points="0.0,378.5 2.1,379.2 5.7,375.3 9.3,377.3 12.8,372.1 16.4,369.2 19.9,366.4 22.8,368.2 26.3,362.8 29.2,360.7 32.7,359.7 35.6,359.3 37.3,358.8 38.1,367.1 39.8,386.3 43.8,392.7 47.0,388.4 50.5,387.3 54.1,382.4 56.9,395.3 61.2,398.4 66.9,405.5 70.7,410.5 74.0,412.6 77.6,406.9 81.4,400.5 85.1,404.4 88.9,401.2 91.8,392.0 95.3,387.3 98.5,380.6 102.2,385.6 105.6,394.4 108.9,383.0 112.4,379.6 116.0,391.0 119.5,394.4 122.7,391.6 125.9,388.7 129.2,393.4 132.6,400.5 136.3,394.8 140.2,397.2 143.0,384.9 146.7,383.4 150.4,388.1 153.5,399.8 157.1,395.3 160.2,396.3 163.8,391.7 167.1,398.4 170.3,397.2 174.2,398.7 177.4,400.5 182.0,394.4 184.8,394.1 188.1,397.7 191.3,395.3 194.8,395.3 197.9,388.1 201.2,385.6 204.8,382.0 207.6,379.6 211.2,377.8 215.0,375.3 218.6,369.2 222.1,378.5 225.8,387.7 229.2,382.0 232.5,377.3 235.6,374.5 239.2,383.0 242.9,383.4 246.3,388.4 249.6,397.7 253.2,400.5 256.0,399.5 260.3,406.6 263.4,400.5 266.7,401.5 270.2,396.3 273.8,397.7 277.3,400.5 280.2,392.0 283.7,383.0 287.0,382.0 290.9,388.4 294.3,391.0 297.4,380.6 301.4,392.7 304.5,390.6 307.8,394.8 309.9,409.8 311.6,422.3 314.2,421.4 317.8,412.6 321.3,407.6 325.6,410.5 331.3,414.0 335.5,417.2 339.8,414.8 345.8,409.5 352.6,413.6 359.7,406.2 362.9,405.2 366.1,400.5 373.3,405.8 376.1,404.4 380.4,411.5 383.2,411.2 388.2,405.2 390.3,405.5 393.9,418.6 397.9,420.0 400.7,411.2 404.3,411.2 407.4,386.3 411.0,386.3 414.1,387.3 417.4,386.3 420.9,394.8 424.5,399.8 430.2,403.4 435.2,403.4 437.8,404.8 441.4,409.1 445.2,404.1 449.2,406.9 452.8,413.3 456.1,418.6 459.2,419.4 462.8,420.4 466.3,415.5 469.2,416.6 473.4,413.3 477.7,415.2 482.0,416.6 485.5,418.3 488.4,421.9 490.2,424.3 492.6,411.9 496.9,401.9 500.5,406.9 503.6,411.5 506.9,411.5 510.1,412.9 514.0,409.8 517.5,399.5 521.1,405.5 524.7,410.1 527.5,411.9 531.1,410.5 534.6,413.8 538.2,415.7 541.7,416.2 544.9,419.0 548.1,421.2 551.7,413.8 556.0,415.2 560.2,416.6 564.8,417.6 568.8,419.0 572.3,421.2 575.9,416.9 579.0,399.1 583.6,403.4 588.5,405.2 593.1,406.6 595.9,391.3 599.9,379.2 603.5,382.0 606.3,380.6 609.9,377.3 613.4,375.6 616.7,383.4 620.6,386.3 624.4,389.1 627.0,388.1 630.5,390.1 634.1,391.6 637.6,375.6 641.2,382.0 644.8,389.8 648.0,389.1 651.2,385.6 654.7,394.1 658.3,397.7 661.8,405.5 665.4,401.2 668.9,402.9 674.6,402.7 678.9,409.8 682.5,404.4 688.9,404.8 692.4,413.9 696.1,417.1 698.9,423.5 702.6,426.3 706.9,420.8 713.4,424.7 716.6,432.4 719.8,420.3 723.1,419.5 728.7,421.9 736.8,424.7 741.6,420.3 747.3,405.8 750.5,409.8 754.5,407.4 759.4,410.2 764.5,413.9 768.2,406.6 771.5,405.3 777.1,411.5 781.9,414.4 783.1,394.1 785.4,377.5 788.8,382.0 792.1,382.5 795.5,379.2 798.5,388.1 802.1,391.3 806.3,389.1 811.6,389.6 816.3,393.4 819.8,397.2 822.7,396.7 826.7,392.4 829.5,393.4 834.1,389.6 836.9,390.6 840.5,397.0 843.8,401.2 847.2,397.7 850.4,379.2 854.0,382.0 858.0,387.3 861.8,392.7 866.1,395.5 868.9,398.4 871.8,402.4 874.6,401.5 878.2,403.4 880.8,404.2" fill="none" stroke="#7e57c2" stroke-width="0.75" stroke-linejoin="round"/><g><rect x="-2.20" y="463.06" width="2.6" height="10.09" fill="#26a69a"/><rect x="1.23" y="462.81" width="2.6" height="10.34" fill="#26a69a"/><rect x="4.67" y="462.41" width="2.6" height="10.74" fill="#26a69a"/><rect x="8.10" y="462.92" width="2.6" height="10.23" fill="#b2dfdb"/><rect x="11.53" y="462.85" width="2.6" height="10.30" fill="#26a69a"/><rect x="14.97" y="462.77" width="2.6" height="10.38" fill="#26a69a"/><rect x="18.40" y="462.61" width="2.6" height="10.54" fill="#26a69a"/><rect x="21.84" y="463.27" width="2.6" height="9.88" fill="#b2dfdb"/><rect x="25.27" y="462.95" width="2.6" height="10.20" fill="#26a69a"/><rect x="28.70" y="462.90" width="2.6" height="10.25" fill="#26a69a"/><rect x="32.14" y="463.35" width="2.6" height="9.80" fill="#b2dfdb"/><rect x="35.57" y="464.03" width="2.6" height="9.12" fill="#b2dfdb"/><rect x="39.01" y="468.07" width="2.6" height="5.08" fill="#b2dfdb"/><rect x="42.44" y="471.85" width="2.6" height="1.30" fill="#b2dfdb"/><rect x="45.87" y="473.15" width="2.6" height="0.62" fill="#ff5252"/><rect x="49.31" y="473.15" width="2.6" height="1.76" fill="#ff5252"/><rect x="52.74" y="473.15" width="2.6" height="1.70" fill="#ffcdd2"/><rect x="56.18" y="473.15" width="2.6" height="3.74" fill="#ff5252"/><rect x="59.61" y="473.15" width="2.6" height="5.32" fill="#ff5252"/><rect x="63.04" y="473.15" width="2.6" height="6.87" fill="#ff5252"/><rect x="66.48" y="473.15" width="2.6" height="8.43" fill="#ff5252"/><rect x="69.91" y="473.15" width="2.6" height="9.98" fill="#ff5252"/><rect x="73.35" y="473.15" width="2.6" height="10.85" fill="#ff5252"/><rect x="76.78" y="473.15" width="2.6" height="10.17" fill="#ffcdd2"/><rect x="80.21" y="473.15" width="2.6" height="8.40" fill="#ffcdd2"/><rect x="83.65" y="473.15" width="2.6" height="7.63" fill="#ffcdd2"/><rect x="87.08" y="473.15" width="2.6" height="6.31" fill="#ffcdd2"/><rect x="90.52" y="473.15" width="2.6" height="3.74" fill="#ffcdd2"/><rect x="93.95" y="473.15" width="2.6" height="1.12" fill="#ffcdd2"/><rect x="97.38" y="471.42" width="2.6" height="1.73" fill="#26a69a"/><rect x="100.82" y="470.32" width="2.6" height="2.83" fill="#26a69a"/><rect x="104.25" y="471.15" width="2.6" height="2.00" fill="#b2dfdb"/><rect x="107.69" y="469.59" width="2.6" height="3.56" fill="#26a69a"/><rect x="111.12" y="468.01" width="2.6" height="5.14" fill="#26a69a"/><rect x="114.55" y="469.32" width="2.6" height="3.83" fill="#b2dfdb"/><rect x="117.99" y="470.98" width="2.6" height="2.17" fill="#b2dfdb"/><rect x="121.42" y="471.59" width="2.6" height="1.56" fill="#b2dfdb"/><rect x="124.86" y="471.50" width="2.6" height="1.65" fill="#26a69a"/><rect x="128.29" y="472.52" width="2.6" height="0.63" fill="#b2dfdb"/><rect x="131.72" y="473.15" width="2.6" height="1.48" fill="#ff5252"/><rect x="135.16" y="473.15" width="2.6" height="1.55" fill="#ff5252"/><rect x="138.59" y="473.15" width="2.6" height="2.15" fill="#ff5252"/><rect x="142.03" y="472.85" width="2.6" height="0.30" fill="#26a69a"/><rect x="145.46" y="470.99" width="2.6" height="2.16" fill="#26a69a"/><rect x="148.89" y="470.79" width="2.6" height="2.36" fill="#26a69a"/><rect x="152.33" y="473.15" width="2.6" height="0.39" fill="#ff5252"/><rect x="155.76" y="473.15" width="2.6" height="1.00" fill="#ff5252"/><rect x="159.20" y="473.15" width="2.6" height="1.68" fill="#ff5252"/><rect x="162.63" y="473.15" width="2.6" height="0.99" fill="#ffcdd2"/><rect x="166.06" y="473.15" width="2.6" height="1.99" fill="#ff5252"/><rect x="169.50" y="473.15" width="2.6" height="2.32" fill="#ff5252"/><rect x="172.93" y="473.15" width="2.6" height="2.81" fill="#ff5252"/><rect x="176.37" y="473.15" width="2.6" height="3.32" fill="#ff5252"/><rect x="179.80" y="473.15" width="2.6" height="2.61" fill="#ffcdd2"/><rect x="183.23" y="473.15" width="2.6" height="1.66" fill="#ffcdd2"/><rect x="186.67" y="473.15" width="2.6" height="1.66" fill="#ffcdd2"/><rect x="190.10" y="473.15" width="2.6" height="1.05" fill="#ffcdd2"/><rect x="193.54" y="473.15" width="2.6" height="0.66" fill="#ffcdd2"/><rect x="196.97" y="472.31" width="2.6" height="0.84" fill="#26a69a"/><rect x="200.40" y="470.97" width="2.6" height="2.18" fill="#26a69a"/><rect x="203.84" y="469.57" width="2.6" height="3.58" fill="#26a69a"/><rect x="207.27" y="468.38" width="2.6" height="4.77" fill="#26a69a"/><rect x="210.71" y="467.74" width="2.6" height="5.41" fill="#26a69a"/><rect x="214.14" y="467.07" width="2.6" height="6.08" fill="#26a69a"/><rect x="217.57" y="465.73" width="2.6" height="7.42" fill="#26a69a"/><rect x="221.01" y="466.65" width="2.6" height="6.50" fill="#b2dfdb"/><rect x="224.44" y="468.67" width="2.6" height="4.48" fill="#b2dfdb"/><rect x="227.88" y="469.53" width="2.6" height="3.62" fill="#b2dfdb"/><rect x="231.31" y="469.29" width="2.6" height="3.86" fill="#26a69a"/><rect x="234.74" y="468.58" width="2.6" height="4.57" fill="#26a69a"/><rect x="238.18" y="469.66" width="2.6" height="3.49" fill="#b2dfdb"/><rect x="241.61" y="470.69" width="2.6" height="2.46" fill="#b2dfdb"/><rect x="245.05" y="472.19" width="2.6" height="0.96" fill="#b2dfdb"/><rect x="248.48" y="473.15" width="2.6" height="1.62" fill="#ff5252"/><rect x="251.91" y="473.15" width="2.6" height="3.80" fill="#ff5252"/><rect x="255.35" y="473.15" width="2.6" height="4.86" fill="#ff5252"/><rect x="258.78" y="473.15" width="2.6" height="6.75" fill="#ff5252"/><rect x="262.22" y="473.15" width="2.6" height="6.68" fill="#ffcdd2"/><rect x="265.65" y="473.15" width="2.6" height="6.76" fill="#ff5252"/><rect x="269.08" y="473.15" width="2.6" height="5.58" fill="#ffcdd2"/><rect x="272.52" y="473.15" width="2.6" height="4.78" fill="#ffcdd2"/><rect x="275.95" y="473.15" width="2.6" height="4.54" fill="#ffcdd2"/><rect x="279.39" y="473.15" width="2.6" height="2.62" fill="#ffcdd2"/><rect x="282.82" y="473.15" width="2.6" height="0.30" fill="#ffcdd2"/><rect x="286.25" y="471.43" width="2.6" height="1.72" fill="#26a69a"/><rect x="289.69" y="471.38" width="2.6" height="1.77" fill="#26a69a"/><rect x="293.12" y="471.80" width="2.6" height="1.35" fill="#b2dfdb"/><rect x="296.56" y="470.25" width="2.6" height="2.90" fill="#26a69a"/><rect x="299.99" y="471.40" width="2.6" height="1.75" fill="#b2dfdb"/><rect x="303.42" y="471.76" width="2.6" height="1.39" fill="#b2dfdb"/><rect x="306.86" y="472.91" width="2.6" height="0.30" fill="#b2dfdb"/><rect x="310.29" y="473.15" width="2.6" height="8.48" fill="#ff5252"/><rect x="313.73" y="473.15" width="2.6" height="13.17" fill="#ff5252"/><rect x="317.16" y="473.15" width="2.6" height="13.61" fill="#ff5252"/><rect x="320.59" y="473.15" width="2.6" height="12.21" fill="#ffcdd2"/><rect x="324.03" y="473.15" width="2.6" height="11.51" fill="#ffcdd2"/><rect x="327.46" y="473.15" width="2.6" height="11.12" fill="#ffcdd2"/><rect x="330.90" y="473.15" width="2.6" height="11.02" fill="#ffcdd2"/><rect x="334.33" y="473.15" width="2.6" height="11.08" fill="#ff5252"/><rect x="337.76" y="473.15" width="2.6" height="10.02" fill="#ffcdd2"/><rect x="341.20" y="473.15" width="2.6" height="8.15" fill="#ffcdd2"/><rect x="344.63" y="473.15" width="2.6" height="5.67" fill="#ffcdd2"/><rect x="348.07" y="473.15" width="2.6" height="4.22" fill="#ffcdd2"/><rect x="351.50" y="473.15" width="2.6" height="3.44" fill="#ffcdd2"/><rect x="354.93" y="473.15" width="2.6" height="1.91" fill="#ffcdd2"/><rect x="358.37" y="473.15" width="2.6" height="0.30" fill="#ffcdd2"/><rect x="361.80" y="471.70" width="2.6" height="1.45" fill="#26a69a"/><rect x="365.24" y="469.83" width="2.6" height="3.32" fill="#26a69a"/><rect x="368.67" y="469.02" width="2.6" height="4.13" fill="#26a69a"/><rect x="372.10" y="469.07" width="2.6" height="4.08" fill="#b2dfdb"/><rect x="375.54" y="468.92" width="2.6" height="4.23" fill="#26a69a"/><rect x="378.97" y="470.24" width="2.6" height="2.91" fill="#b2dfdb"/><rect x="382.41" y="470.89" width="2.6" height="2.26" fill="#b2dfdb"/><rect x="385.84" y="470.62" width="2.6" height="2.53" fill="#26a69a"/><rect x="389.27" y="470.25" width="2.6" height="2.90" fill="#26a69a"/><rect x="392.71" y="472.82" width="2.6" height="0.33" fill="#b2dfdb"/><rect x="396.14" y="473.15" width="2.6" height="1.63" fill="#ff5252"/><rect x="399.58" y="473.15" width="2.6" height="1.45" fill="#ffcdd2"/><rect x="403.01" y="473.15" width="2.6" height="1.11" fill="#ffcdd2"/><rect x="406.44" y="469.58" width="2.6" height="3.57" fill="#26a69a"/><rect x="409.88" y="466.70" width="2.6" height="6.45" fill="#26a69a"/><rect x="413.31" y="465.15" width="2.6" height="8.00" fill="#26a69a"/><rect x="416.75" y="464.21" width="2.6" height="8.94" fill="#26a69a"/><rect x="420.18" y="465.41" width="2.6" height="7.74" fill="#b2dfdb"/><rect x="423.61" y="467.33" width="2.6" height="5.82" fill="#b2dfdb"/><rect x="427.05" y="469.19" width="2.6" height="3.96" fill="#b2dfdb"/><rect x="430.48" y="470.81" width="2.6" height="2.34" fill="#b2dfdb"/><rect x="433.92" y="471.71" width="2.6" height="1.44" fill="#b2dfdb"/><rect x="437.35" y="472.54" width="2.6" height="0.61" fill="#b2dfdb"/><rect x="440.78" y="473.15" width="2.6" height="0.75" fill="#ff5252"/><rect x="444.22" y="473.15" width="2.6" height="0.84" fill="#ff5252"/><rect x="447.65" y="473.15" width="2.6" height="1.10" fill="#ff5252"/><rect x="451.09" y="473.15" width="2.6" height="2.22" fill="#ff5252"/><rect x="454.52" y="473.15" width="2.6" height="4.03" fill="#ff5252"/><rect x="457.95" y="473.15" width="2.6" height="5.11" fill="#ff5252"/><rect x="461.39" y="473.15" width="2.6" height="5.74" fill="#ff5252"/><rect x="464.82" y="473.15" width="2.6" height="5.14" fill="#ffcdd2"/><rect x="468.26" y="473.15" width="2.6" height="4.69" fill="#ffcdd2"/><rect x="471.69" y="473.15" width="2.6" height="3.64" fill="#ffcdd2"/><rect x="475.12" y="473.15" width="2.6" height="2.67" fill="#ffcdd2"/><rect x="478.56" y="473.15" width="2.6" height="2.12" fill="#ffcdd2"/><rect x="481.99" y="473.15" width="2.6" height="1.61" fill="#ffcdd2"/><rect x="485.43" y="473.15" width="2.6" height="1.37" fill="#ffcdd2"/><rect x="488.86" y="473.15" width="2.6" height="2.19" fill="#ff5252"/><rect x="492.29" y="473.15" width="2.6" height="0.90" fill="#ffcdd2"/><rect x="495.73" y="472.17" width="2.6" height="0.98" fill="#26a69a"/><rect x="499.16" y="471.48" width="2.6" height="1.67" fill="#26a69a"/><rect x="502.60" y="472.05" width="2.6" height="1.10" fill="#b2dfdb"/><rect x="506.03" y="472.21" width="2.6" height="0.94" fill="#b2dfdb"/><rect x="509.46" y="472.43" width="2.6" height="0.72" fill="#b2dfdb"/><rect x="512.90" y="472.17" width="2.6" height="0.98" fill="#26a69a"/><rect x="516.33" y="470.70" width="2.6" height="2.45" fill="#26a69a"/><rect x="519.77" y="470.45" width="2.6" height="2.70" fill="#26a69a"/><rect x="523.20" y="471.16" width="2.6" height="1.99" fill="#b2dfdb"/><rect x="526.63" y="471.87" width="2.6" height="1.28" fill="#b2dfdb"/><rect x="530.07" y="472.02" width="2.6" height="1.13" fill="#b2dfdb"/><rect x="533.50" y="472.72" width="2.6" height="0.43" fill="#b2dfdb"/><rect x="536.94" y="473.15" width="2.6" height="0.30" fill="#ff5252"/><rect x="540.37" y="473.15" width="2.6" height="0.53" fill="#ff5252"/><rect x="543.80" y="473.15" width="2.6" height="1.06" fill="#ff5252"/><rect x="547.24" y="473.15" width="2.6" height="1.65" fill="#ff5252"/><rect x="550.67" y="473.15" width="2.6" height="0.99" fill="#ffcdd2"/><rect x="554.11" y="473.15" width="2.6" height="0.53" fill="#ffcdd2"/><rect x="557.54" y="473.15" width="2.6" height="0.30" fill="#ffcdd2"/><rect x="560.97" y="473.15" width="2.6" height="0.30" fill="#ffcdd2"/><rect x="564.41" y="473.01" width="2.6" height="0.30" fill="#26a69a"/><rect x="567.84" y="472.90" width="2.6" height="0.30" fill="#26a69a"/><rect x="571.28" y="472.96" width="2.6" height="0.30" fill="#b2dfdb"/><rect x="574.71" y="472.66" width="2.6" height="0.49" fill="#26a69a"/><rect x="578.14" y="470.97" width="2.6" height="2.18" fill="#26a69a"/><rect x="581.58" y="470.34" width="2.6" height="2.81" fill="#26a69a"/><rect x="585.01" y="470.06" width="2.6" height="3.09" fill="#26a69a"/><rect x="588.45" y="470.02" width="2.6" height="3.13" fill="#26a69a"/><rect x="591.88" y="470.14" width="2.6" height="3.01" fill="#b2dfdb"/><rect x="595.31" y="468.81" width="2.6" height="4.34" fill="#26a69a"/><rect x="598.75" y="466.89" width="2.6" height="6.26" fill="#26a69a"/><rect x="602.18" y="466.14" width="2.6" height="7.01" fill="#26a69a"/><rect x="605.62" y="465.85" width="2.6" height="7.30" fill="#26a69a"/><rect x="609.05" y="465.53" width="2.6" height="7.62" fill="#26a69a"/><rect x="612.48" y="465.42" width="2.6" height="7.73" fill="#26a69a"/><rect x="615.92" y="466.43" width="2.6" height="6.72" fill="#b2dfdb"/><rect x="619.35" y="467.55" width="2.6" height="5.60" fill="#b2dfdb"/><rect x="622.79" y="468.71" width="2.6" height="4.44" fill="#b2dfdb"/><rect x="626.22" y="469.61" width="2.6" height="3.54" fill="#b2dfdb"/><rect x="629.65" y="470.53" width="2.6" height="2.62" fill="#b2dfdb"/><rect x="633.09" y="471.42" width="2.6" height="1.73" fill="#b2dfdb"/><rect x="636.52" y="470.37" width="2.6" height="2.78" fill="#26a69a"/><rect x="639.96" y="470.29" width="2.6" height="2.86" fill="#26a69a"/><rect x="643.39" y="471.18" width="2.6" height="1.97" fill="#b2dfdb"/><rect x="646.82" y="471.81" width="2.6" height="1.34" fill="#b2dfdb"/><rect x="650.26" y="472.01" width="2.6" height="1.14" fill="#b2dfdb"/><rect x="653.69" y="472.94" width="2.6" height="0.30" fill="#b2dfdb"/><rect x="657.13" y="473.15" width="2.6" height="0.77" fill="#ff5252"/><rect x="660.56" y="473.15" width="2.6" height="2.27" fill="#ff5252"/><rect x="663.99" y="473.15" width="2.6" height="2.64" fill="#ff5252"/><rect x="667.43" y="473.15" width="2.6" height="2.99" fill="#ff5252"/><rect x="670.86" y="473.15" width="2.6" height="3.12" fill="#ff5252"/><rect x="674.30" y="473.15" width="2.6" height="2.93" fill="#ffcdd2"/><rect x="677.73" y="473.15" width="2.6" height="3.44" fill="#ff5252"/><rect x="681.16" y="473.15" width="2.6" height="3.14" fill="#ffcdd2"/><rect x="684.60" y="473.15" width="2.6" height="2.78" fill="#ffcdd2"/><rect x="688.03" y="473.15" width="2.6" height="2.50" fill="#ffcdd2"/><rect x="691.47" y="473.15" width="2.6" height="3.13" fill="#ff5252"/><rect x="694.90" y="473.15" width="2.6" height="3.64" fill="#ff5252"/><rect x="698.33" y="473.15" width="2.6" height="4.77" fill="#ff5252"/><rect x="701.77" y="473.15" width="2.6" height="5.50" fill="#ff5252"/><rect x="705.20" y="473.15" width="2.6" height="5.24" fill="#ffcdd2"/><rect x="708.64" y="473.15" width="2.6" height="5.08" fill="#ffcdd2"/><rect x="712.07" y="473.15" width="2.6" height="4.89" fill="#ffcdd2"/><rect x="715.50" y="473.15" width="2.6" height="5.97" fill="#ff5252"/><rect x="718.94" y="473.15" width="2.6" height="5.24" fill="#ffcdd2"/><rect x="722.37" y="473.15" width="2.6" height="4.32" fill="#ffcdd2"/><rect x="725.81" y="473.15" width="2.6" height="3.63" fill="#ffcdd2"/><rect x="729.24" y="473.15" width="2.6" height="3.07" fill="#ffcdd2"/><rect x="732.67" y="473.15" width="2.6" height="2.59" fill="#ffcdd2"/><rect x="736.11" y="473.15" width="2.6" height="2.24" fill="#ffcdd2"/><rect x="739.54" y="473.15" width="2.6" height="1.56" fill="#ffcdd2"/><rect x="742.98" y="473.15" width="2.6" height="0.47" fill="#ffcdd2"/><rect x="746.41" y="472.15" width="2.6" height="1.00" fill="#26a69a"/><rect x="749.84" y="471.59" width="2.6" height="1.56" fill="#26a69a"/><rect x="753.28" y="470.98" width="2.6" height="2.17" fill="#26a69a"/><rect x="756.71" y="470.84" width="2.6" height="2.31" fill="#26a69a"/><rect x="760.15" y="470.95" width="2.6" height="2.20" fill="#b2dfdb"/><rect x="763.58" y="471.16" width="2.6" height="1.99" fill="#b2dfdb"/><rect x="767.01" y="470.81" width="2.6" height="2.34" fill="#26a69a"/><rect x="770.45" y="470.46" width="2.6" height="2.69" fill="#26a69a"/><rect x="773.88" y="470.64" width="2.6" height="2.51" fill="#b2dfdb"/><rect x="777.32" y="471.15" width="2.6" height="2.00" fill="#b2dfdb"/><rect x="780.75" y="471.59" width="2.6" height="1.56" fill="#b2dfdb"/><rect x="784.18" y="468.84" width="2.6" height="4.31" fill="#26a69a"/><rect x="787.62" y="467.64" width="2.6" height="5.51" fill="#26a69a"/><rect x="791.05" y="467.12" width="2.6" height="6.03" fill="#26a69a"/><rect x="794.49" y="466.56" width="2.6" height="6.59" fill="#26a69a"/><rect x="797.92" y="467.45" width="2.6" height="5.70" fill="#b2dfdb"/><rect x="801.35" y="468.41" width="2.6" height="4.74" fill="#b2dfdb"/><rect x="804.79" y="469.02" width="2.6" height="4.13" fill="#b2dfdb"/><rect x="808.22" y="469.57" width="2.6" height="3.58" fill="#b2dfdb"/><rect x="811.66" y="470.17" width="2.6" height="2.98" fill="#b2dfdb"/><rect x="815.09" y="470.95" width="2.6" height="2.20" fill="#b2dfdb"/><rect x="818.52" y="471.85" width="2.6" height="1.30" fill="#b2dfdb"/><rect x="821.96" y="472.34" width="2.6" height="0.81" fill="#b2dfdb"/><rect x="825.39" y="472.47" width="2.6" height="0.68" fill="#b2dfdb"/><rect x="828.83" y="472.60" width="2.6" height="0.55" fill="#b2dfdb"/><rect x="832.26" y="472.39" width="2.6" height="0.76" fill="#26a69a"/><rect x="835.69" y="472.43" width="2.6" height="0.72" fill="#b2dfdb"/><rect x="839.13" y="472.94" width="2.6" height="0.30" fill="#b2dfdb"/><rect x="842.56" y="473.15" width="2.6" height="0.41" fill="#ff5252"/><rect x="846.00" y="473.15" width="2.6" height="0.61" fill="#ff5252"/><rect x="849.43" y="472.42" width="2.6" height="0.73" fill="#26a69a"/><rect x="852.86" y="471.77" width="2.6" height="1.38" fill="#26a69a"/><rect x="856.30" y="471.74" width="2.6" height="1.41" fill="#26a69a"/><rect x="859.73" y="472.20" width="2.6" height="0.95" fill="#b2dfdb"/><rect x="863.17" y="472.70" width="2.6" height="0.45" fill="#b2dfdb"/><rect x="866.60" y="473.15" width="2.6" height="0.30" fill="#ff5252"/><rect x="870.03" y="473.15" width="2.6" height="0.89" fill="#ff5252"/><rect x="873.47" y="473.15" width="2.6" height="1.18" fill="#ff5252"/><rect x="876.90" y="473.15" width="2.6" height="1.57" fill="#ff5252"/><rect x="880.34" y="473.15" width="2.6" height="1.60" fill="#ff5252"/></g><polyline points="-0.9,474.9 2.5,472.0 6.0,469.0 9.4,466.9 12.8,464.3 16.3,461.6 19.7,458.8 23.1,457.0 26.6,454.1 30.0,451.5 33.4,449.5 36.9,447.9 40.3,450.7 43.7,454.1 47.2,456.2 50.6,457.8 54.0,458.1 57.5,461.1 60.9,464.0 64.3,467.3 67.8,471.0 71.2,475.0 74.6,478.6 78.1,480.4 81.5,480.8 84.9,481.9 88.4,482.2 91.8,480.5 95.3,478.2 98.7,474.9 102.1,473.1 105.6,473.4 109.0,471.0 112.4,468.1 115.9,468.5 119.3,469.6 122.7,469.8 126.2,469.3 129.6,470.2 133.0,472.7 136.5,473.1 139.9,474.2 143.3,471.7 146.8,469.3 150.2,468.5 153.6,471.4 157.1,472.2 160.5,473.3 163.9,472.9 167.4,474.4 170.8,475.3 174.2,476.5 177.7,477.8 181.1,477.8 184.5,477.2 188.0,477.7 191.4,477.3 194.8,477.1 198.3,475.4 201.7,473.5 205.1,471.2 208.6,468.8 212.0,466.8 215.4,464.6 218.9,461.4 222.3,460.7 225.7,461.6 229.2,461.6 232.6,460.4 236.0,458.5 239.5,458.7 242.9,459.1 246.3,460.4 249.8,463.4 253.2,466.5 256.6,468.8 260.1,472.4 263.5,474.0 266.9,475.7 270.4,476.0 273.8,476.4 277.3,477.3 280.7,476.0 284.1,473.4 287.6,471.2 291.0,470.7 294.4,470.8 297.9,468.5 301.3,469.2 304.7,469.3 308.2,470.4 311.6,481.2 315.0,489.2 318.5,493.0 321.9,494.7 325.3,496.9 328.8,499.2 332.2,501.9 335.6,504.7 339.1,506.2 342.5,506.3 345.9,505.3 349.4,504.9 352.8,505.0 356.2,503.9 359.7,502.1 363.1,500.2 366.5,497.5 370.0,495.7 373.4,494.7 376.8,493.5 380.3,494.1 383.7,494.2 387.1,493.3 390.6,492.2 394.0,494.7 397.4,497.0 400.9,497.2 404.3,497.1 407.7,491.6 411.2,487.1 414.6,483.5 418.0,480.4 421.5,479.6 424.9,480.1 428.3,481.0 431.8,482.0 435.2,482.5 438.6,483.2 442.1,484.8 445.5,485.1 449.0,485.6 452.4,487.3 455.8,490.1 459.3,492.4 462.7,494.5 466.1,495.2 469.6,495.9 473.0,495.8 476.4,495.5 479.9,495.5 483.3,495.3 486.7,495.5 490.2,496.8 493.6,495.8 497.0,493.6 500.5,492.5 503.9,492.8 507.3,492.7 510.8,492.8 514.2,492.3 517.6,490.2 521.1,489.3 524.5,489.5 527.9,489.9 531.4,489.7 534.8,490.3 538.2,491.1 541.7,491.5 545.1,492.3 548.5,493.3 552.0,492.9 555.4,492.5 558.8,492.4 562.3,492.2 565.7,491.9 569.1,491.7 572.6,491.8 576.0,491.3 579.4,489.1 582.9,487.8 586.3,486.7 589.7,485.9 593.2,485.3 596.6,482.9 600.0,479.4 603.5,476.9 606.9,474.7 610.4,472.5 613.8,470.5 617.2,469.8 620.7,469.5 624.1,469.6 627.5,469.6 631.0,469.9 634.4,470.3 637.8,468.6 641.3,467.8 644.7,468.2 648.1,468.5 651.6,468.4 655.0,469.3 658.4,470.4 661.9,472.5 665.3,473.5 668.7,474.6 672.2,475.5 675.6,476.1 679.0,477.5 682.5,477.9 685.9,478.3 689.3,478.6 692.8,480.0 696.2,481.5 699.6,483.8 703.1,485.9 706.5,486.9 709.9,488.0 713.4,489.1 716.8,491.6 720.2,492.2 723.7,492.4 727.1,492.6 730.5,492.8 734.0,493.0 737.4,493.2 740.8,492.9 744.3,491.9 747.7,490.2 751.1,489.3 754.6,488.1 758.0,487.4 761.4,486.9 764.9,486.6 768.3,485.7 771.7,484.7 775.2,484.3 778.6,484.3 782.1,484.3 785.5,480.5 788.9,477.9 792.4,475.9 795.8,473.7 799.2,473.1 802.7,472.9 806.1,472.5 809.5,472.1 813.0,472.0 816.4,472.2 819.8,472.8 823.3,473.1 826.7,473.0 830.1,473.0 833.6,472.6 837.0,472.5 840.4,473.0 843.9,473.7 847.3,474.0 850.7,472.5 854.2,471.5 857.6,471.1 861.0,471.4 864.5,471.7 867.9,472.3 871.3,473.3 874.8,473.9 878.2,474.7 881.6,475.1" fill="none" stroke="#2196f3" stroke-width="0.8"/><polyline points="-0.9,485.0 2.5,482.4 6.0,479.7 9.4,477.1 12.8,474.6 16.3,472.0 19.7,469.3 23.1,466.9 26.6,464.3 30.0,461.7 33.4,459.3 36.9,457.0 40.3,455.7 43.7,455.4 47.2,455.6 50.6,456.0 54.0,456.4 57.5,457.4 60.9,458.7 64.3,460.4 67.8,462.5 71.2,465.0 74.6,467.7 78.1,470.3 81.5,472.4 84.9,474.3 88.4,475.9 91.8,476.8 95.3,477.1 98.7,476.6 102.1,475.9 105.6,475.4 109.0,474.5 112.4,473.3 115.9,472.3 119.3,471.8 122.7,471.4 126.2,471.0 129.6,470.8 133.0,471.2 136.5,471.6 139.9,472.1 143.3,472.0 146.8,471.5 150.2,470.9 153.6,471.0 157.1,471.2 160.5,471.7 163.9,471.9 167.4,472.4 170.8,473.0 174.2,473.7 177.7,474.5 181.1,475.2 184.5,475.6 188.0,476.0 191.4,476.3 194.8,476.4 198.3,476.2 201.7,475.7 205.1,474.8 208.6,473.6 212.0,472.2 215.4,470.7 218.9,468.8 222.3,467.2 225.7,466.1 229.2,465.2 232.6,464.2 236.0,463.1 239.5,462.2 242.9,461.6 246.3,461.4 249.8,461.8 253.2,462.7 256.6,463.9 260.1,465.6 263.5,467.3 266.9,469.0 270.4,470.4 273.8,471.6 277.3,472.7 280.7,473.4 284.1,473.4 287.6,472.9 291.0,472.5 294.4,472.2 297.9,471.4 301.3,471.0 304.7,470.7 308.2,470.6 311.6,472.7 315.0,476.0 318.5,479.4 321.9,482.5 325.3,485.3 328.8,488.1 332.2,490.9 335.6,493.6 339.1,496.2 342.5,498.2 345.9,499.6 349.4,500.7 352.8,501.5 356.2,502.0 359.7,502.0 363.1,501.7 366.5,500.8 370.0,499.8 373.4,498.8 376.8,497.7 380.3,497.0 383.7,496.4 387.1,495.8 390.6,495.1 394.0,495.0 397.4,495.4 400.9,495.8 404.3,496.0 407.7,495.1 411.2,493.5 414.6,491.5 418.0,489.3 421.5,487.4 424.9,485.9 428.3,484.9 431.8,484.3 435.2,484.0 438.6,483.8 442.1,484.0 445.5,484.2 449.0,484.5 452.4,485.1 455.8,486.1 459.3,487.3 462.7,488.8 466.1,490.1 469.6,491.2 473.0,492.1 476.4,492.8 479.9,493.3 483.3,493.7 486.7,494.1 490.2,494.6 493.6,494.9 497.0,494.6 500.5,494.2 503.9,493.9 507.3,493.7 510.8,493.5 514.2,493.3 517.6,492.6 521.1,492.0 524.5,491.5 527.9,491.2 531.4,490.9 534.8,490.8 538.2,490.8 541.7,491.0 545.1,491.2 548.5,491.6 552.0,491.9 555.4,492.0 558.8,492.1 562.3,492.1 565.7,492.1 569.1,492.0 572.6,492.0 576.0,491.8 579.4,491.3 582.9,490.6 586.3,489.8 589.7,489.0 593.2,488.3 596.6,487.2 600.0,485.6 603.5,483.9 606.9,482.1 610.4,480.1 613.8,478.2 617.2,476.5 620.7,475.1 624.1,474.0 627.5,473.1 631.0,472.5 634.4,472.0 637.8,471.4 641.3,470.6 644.7,470.1 648.1,469.8 651.6,469.5 655.0,469.5 658.4,469.7 661.9,470.2 665.3,470.9 668.7,471.6 672.2,472.4 675.6,473.2 679.0,474.0 682.5,474.8 685.9,475.5 689.3,476.1 692.8,476.9 696.2,477.8 699.6,479.0 703.1,480.4 706.5,481.7 709.9,483.0 713.4,484.2 716.8,485.7 720.2,487.0 723.7,488.1 727.1,489.0 730.5,489.7 734.0,490.4 737.4,490.9 740.8,491.3 744.3,491.5 747.7,491.2 751.1,490.8 754.6,490.3 758.0,489.7 761.4,489.1 764.9,488.6 768.3,488.1 771.7,487.4 775.2,486.8 778.6,486.3 782.1,485.9 785.5,484.8 788.9,483.4 792.4,481.9 795.8,480.3 799.2,478.8 802.7,477.6 806.1,476.6 809.5,475.7 813.0,475.0 816.4,474.4 819.8,474.1 823.3,473.9 826.7,473.7 830.1,473.6 833.6,473.4 837.0,473.2 840.4,473.2 843.9,473.3 847.3,473.4 850.7,473.2 854.2,472.9 857.6,472.5 861.0,472.3 864.5,472.2 867.9,472.2 871.3,472.4 874.8,472.7 878.2,473.1 881.6,473.5" fill="none" stroke="#ff6d00" stroke-width="0.8"/><text x="1180.5" y="11.05" fill="#464953" font-size="6.4" letter-spacing="0.3" textLength="18.6" lengthAdjust="spacingAndGlyphs">4.5000</text><text x="1180.5" y="42.05" fill="#464953" font-size="6.4" letter-spacing="0.3" textLength="18.6" lengthAdjust="spacingAndGlyphs">4.0000</text><text x="1180.5" y="73.05" fill="#464953" font-size="6.4" letter-spacing="0.3" textLength="18.6" lengthAdjust="spacingAndGlyphs">3.5000</text><text x="1180.5" y="104.05" fill="#464953" font-size="6.4" letter-spacing="0.3" textLength="18.6" lengthAdjust="spacingAndGlyphs">3.0000</text><text x="1180.5" y="135.05" fill="#464953" font-size="6.4" letter-spacing="0.3" textLength="18.6" lengthAdjust="spacingAndGlyphs">2.5000</text><text x="1180.5" y="166.05" fill="#464953" font-size="6.4" letter-spacing="0.3" textLength="18.6" lengthAdjust="spacingAndGlyphs">2.0000</text><text x="1180.5" y="228.05" fill="#464953" font-size="6.4" letter-spacing="0.3" textLength="18.6" lengthAdjust="spacingAndGlyphs">1.0000</text><text x="1180.5" y="259.05" fill="#464953" font-size="6.4" letter-spacing="0.3" textLength="18.6" lengthAdjust="spacingAndGlyphs">0.5000</text><text x="1180.5" y="290.05" fill="#464953" font-size="6.4" letter-spacing="0.3" textLength="18.6" lengthAdjust="spacingAndGlyphs">0.0000</text><text x="1180.5" y="321.05" fill="#464953" font-size="6.4" letter-spacing="0.3" textLength="20.8" lengthAdjust="spacingAndGlyphs">-0.5000</text><text x="1180.5" y="354.20" fill="#464953" font-size="6.4" letter-spacing="0.3" textLength="15.4" lengthAdjust="spacingAndGlyphs">80.00</text><text x="1180.5" y="381.80" fill="#464953" font-size="6.4" letter-spacing="0.3" textLength="15.4" lengthAdjust="spacingAndGlyphs">60.00</text><text x="1180.5" y="437.20" fill="#464953" font-size="6.4" letter-spacing="0.3" textLength="15.4" lengthAdjust="spacingAndGlyphs">20.00</text><text x="1180.5" y="454.00" fill="#464953" font-size="6.4" letter-spacing="0.3" textLength="18.6" lengthAdjust="spacingAndGlyphs">0.2000</text><text x="1180.5" y="497.50" fill="#464953" font-size="6.4" letter-spacing="0.3" textLength="20.8" lengthAdjust="spacingAndGlyphs">-0.2000</text><rect x="1176" y="170.5" width="26" height="8.699999999999989" rx="1" fill="#2962ff"/><text x="1180.6" y="177.35" fill="#fff" stroke="#fff" stroke-width="0.08" font-size="6.5" letter-spacing="0.35" textLength="17.6" lengthAdjust="spacingAndGlyphs">1.7573</text><rect x="1176" y="179.4" width="26" height="8.699999999999989" rx="1" fill="#ff9800"/><text x="1180.6" y="186.25" fill="#131722" stroke="#131722" stroke-width="0.08" font-size="6.5" letter-spacing="0.35" textLength="17.6" lengthAdjust="spacingAndGlyphs">1.6780</text><rect x="1176" y="188.3" width="26" height="8.699999999999989" rx="1" fill="#f23645"/><text x="1180.6" y="195.15" fill="#fff" stroke="#fff" stroke-width="0.08" font-size="6.5" letter-spacing="0.35" textLength="17.6" lengthAdjust="spacingAndGlyphs">1.5306</text><rect x="1176" y="197.2" width="26" height="8.5" rx="1" fill="#e00010"/><text x="1180.6" y="203.95" fill="#fff" stroke="#fff" stroke-width="0.08" font-size="6.5" letter-spacing="0.35" textLength="17.6" lengthAdjust="spacingAndGlyphs">1.3950</text><rect x="1176" y="207.3" width="26" height="8.699999999999989" rx="1" fill="#ff9800"/><text x="1180.6" y="214.15" fill="#131722" stroke="#131722" stroke-width="0.08" font-size="6.5" letter-spacing="0.35" textLength="17.6" lengthAdjust="spacingAndGlyphs">1.2250</text><rect x="1176" y="244.0" width="26" height="8.900000000000006" rx="1" fill="#089981"/><text x="1180.6" y="250.95" fill="#fff" stroke="#fff" stroke-width="0.08" font-size="6.5" letter-spacing="0.35" textLength="17.6" lengthAdjust="spacingAndGlyphs">0.6330</text><rect x="1176" y="340.8" width="27" height="8.199999999999989" rx="1" fill="#f23645"/><text x="1180.6" y="347.40" fill="#fff" stroke="#fff" stroke-width="0.08" font-size="6.5" letter-spacing="0.35" textLength="17.6" lengthAdjust="spacingAndGlyphs">1.741M</text><rect x="1176" y="400.0" width="23" height="8.399999999999977" rx="1" fill="#7e57c2"/><text x="1180.6" y="406.70" fill="#fff" stroke="#fff" stroke-width="0.08" font-size="6.5" letter-spacing="0.35" textLength="14.6" lengthAdjust="spacingAndGlyphs">42.09</text><rect x="1176" y="462.0" width="28" height="9.0" rx="1" fill="#ff6d00"/><text x="1180.6" y="469.00" fill="#fff" stroke="#fff" stroke-width="0.08" font-size="6.5" letter-spacing="0.35" textLength="20.6" lengthAdjust="spacingAndGlyphs">-0.0028</text><rect x="1176" y="471.2" width="28" height="8.5" rx="1" fill="#f7525f"/><text x="1180.6" y="477.95" fill="#fff" stroke="#fff" stroke-width="0.08" font-size="6.5" letter-spacing="0.35" textLength="20.6" lengthAdjust="spacingAndGlyphs">-0.0153</text><rect x="1176" y="479.9" width="28" height="8.5" rx="1" fill="#2196f3"/><text x="1180.6" y="486.65" fill="#fff" stroke="#fff" stroke-width="0.08" font-size="6.5" letter-spacing="0.35" textLength="20.6" lengthAdjust="spacingAndGlyphs">-0.0180</text><text x="9.4" y="521.4" fill="#3a3e49" font-size="6.3" text-anchor="middle" >14</text><text x="71.6" y="521.4" fill="#3a3e49" font-size="6.3" text-anchor="middle" >Aug</text><text x="115.5" y="521.4" fill="#3a3e49" font-size="6.3" text-anchor="middle" >14</text><text x="177.6" y="521.4" fill="#3a3e49" font-size="6.3" text-anchor="middle" >Sep</text><text x="222.3" y="521.4" fill="#3a3e49" font-size="6.3" text-anchor="middle" >14</text><text x="280.9" y="521.4" fill="#3a3e49" font-size="6.3" text-anchor="middle" >Oct</text><text x="325.6" y="521.4" fill="#3a3e49" font-size="6.3" text-anchor="middle" >14</text><text x="387.4" y="521.4" fill="#3a3e49" font-size="6.3" text-anchor="middle" >Nov</text><text x="432.1" y="521.4" fill="#3a3e49" font-size="6.3" text-anchor="middle" >14</text><text x="490.5" y="521.4" fill="#3a3e49" font-size="6.3" text-anchor="middle" >Dec</text><text x="535.2" y="521.4" fill="#3a3e49" font-size="6.3" text-anchor="middle" >14</text><text x="596.6" y="521.4" fill="#3a3e49" font-size="6.3" text-anchor="middle" >2026</text><text x="641.3" y="521.4" fill="#3a3e49" font-size="6.3" text-anchor="middle" >14</text><text x="703.1" y="521.4" fill="#3a3e49" font-size="6.3" text-anchor="middle" >Feb</text><text x="747.8" y="521.4" fill="#3a3e49" font-size="6.3" text-anchor="middle" >14</text><text x="799.2" y="521.4" fill="#3a3e49" font-size="6.3" text-anchor="middle" >Mar</text><text x="844.0" y="521.4" fill="#3a3e49" font-size="6.3" text-anchor="middle" >14</text><text x="905.3" y="521.4" fill="#3a3e49" font-size="6.3" text-anchor="middle" >Apr</text><text x="950.3" y="521.4" fill="#3a3e49" font-size="6.3" text-anchor="middle" >14</text><text x="1008.3" y="521.4" fill="#3a3e49" font-size="6.3" text-anchor="middle" >May</text><text x="1053.1" y="521.4" fill="#3a3e49" font-size="6.3" text-anchor="middle" >14</text><text x="1115.4" y="521.4" fill="#3a3e49" font-size="6.3" text-anchor="middle" >Jun</text><text x="1159.8" y="521.4" fill="#3a3e49" font-size="6.3" text-anchor="middle" >14</text><text x="265.5" y="9.60" fill="#85888f" font-size="6.4" textLength="28.0" lengthAdjust="spacingAndGlyphs">1 (4.4390)</text><text x="252.4" y="99.30" fill="#85888f" font-size="6.4" textLength="41.3" lengthAdjust="spacingAndGlyphs">0.618 (2.9851)</text><text x="259.40000000000003" y="127.60" fill="#85888f" font-size="6.4" textLength="34.3" lengthAdjust="spacingAndGlyphs">0.5 (2.5360)</text><text x="252.4" y="155.60" fill="#85888f" font-size="6.4" textLength="41.3" lengthAdjust="spacingAndGlyphs">0.382 (2.0869)</text><text x="252.4" y="189.80" fill="#85888f" font-size="6.4" textLength="41.3" lengthAdjust="spacingAndGlyphs">0.236 (1.5312)</text><text x="264.90000000000003" y="245.50" fill="#85888f" font-size="6.4" textLength="28.3" lengthAdjust="spacingAndGlyphs">0 (0.6330)</text><text x="1.3" y="9.1" fill="#50535d" font-size="6.4" textLength="69.3" lengthAdjust="spacingAndGlyphs">DOT/USDT (Binance), 1D</text><text x="74.3" y="9.1" fill="#50535d" font-size="6.4" textLength="4.6" lengthAdjust="spacingAndGlyphs">O</text><text x="79.0" y="9.1" fill="#f23645" font-size="6.4" textLength="18.8" lengthAdjust="spacingAndGlyphs">1.4020</text><text x="100.7" y="9.1" fill="#50535d" font-size="6.4" textLength="4.4" lengthAdjust="spacingAndGlyphs">H</text><text x="105.10000000000001" y="9.1" fill="#f23645" font-size="6.4" textLength="19.2" lengthAdjust="spacingAndGlyphs">1.4120</text><text x="127.4" y="9.1" fill="#50535d" font-size="6.4" textLength="3.6" lengthAdjust="spacingAndGlyphs">L</text><text x="131.0" y="9.1" fill="#f23645" font-size="6.4" textLength="19.3" lengthAdjust="spacingAndGlyphs">1.3880</text><text x="152.6" y="9.1" fill="#50535d" font-size="6.4" textLength="4.3" lengthAdjust="spacingAndGlyphs">C</text><text x="156.89999999999998" y="9.1" fill="#f23645" font-size="6.4" textLength="18.9" lengthAdjust="spacingAndGlyphs">1.3950</text><text x="179.5" y="9.1" fill="#f23645" font-size="6.4" textLength="46.8" lengthAdjust="spacingAndGlyphs">-0.0060 (-0.43%)</text><text x="1.3" y="18.4" fill="#50535d" font-size="6.4" textLength="20.9" lengthAdjust="spacingAndGlyphs">Volume</text><text x="24.9" y="18.4" fill="#f23645" font-size="6.4" textLength="21.2" lengthAdjust="spacingAndGlyphs">1.741M</text><text x="1.3" y="27.2" fill="#50535d" font-size="6.4" textLength="51.4" lengthAdjust="spacingAndGlyphs">EMA (50, close, 0)</text><text x="56.1" y="27.2" fill="#f23645" font-size="6.4" textLength="18.5" lengthAdjust="spacingAndGlyphs">1.5306</text><text x="1.3" y="36.1" fill="#50535d" font-size="6.4" textLength="53.4" lengthAdjust="spacingAndGlyphs">EMA (100, close, 0)</text><text x="58.1" y="36.1" fill="#2962ff" font-size="6.4" textLength="19.2" lengthAdjust="spacingAndGlyphs">1.7573</text><text x="1.4" y="359.7" fill="#50535d" font-size="6.4" textLength="21.7" lengthAdjust="spacingAndGlyphs">RSI (14)</text><text x="26.7" y="359.7" fill="#7e57c2" font-size="6.4" textLength="15.6" lengthAdjust="spacingAndGlyphs">42.09</text><text x="1.2" y="451.1" fill="#50535d" font-size="6.4" textLength="66.1" lengthAdjust="spacingAndGlyphs">MACD (12, 26, close, 9)</text><text x="70.9" y="451.1" fill="#f7525f" font-size="6.4" textLength="20.5" lengthAdjust="spacingAndGlyphs">-0.0153</text><text x="95.8" y="451.1" fill="#2196f3" font-size="6.4" textLength="21.2" lengthAdjust="spacingAndGlyphs">-0.0180</text><text x="120.4" y="451.1" fill="#ff6d00" font-size="6.4" textLength="20.8" lengthAdjust="spacingAndGlyphs">-0.0028</text></svg></div></body></html>
